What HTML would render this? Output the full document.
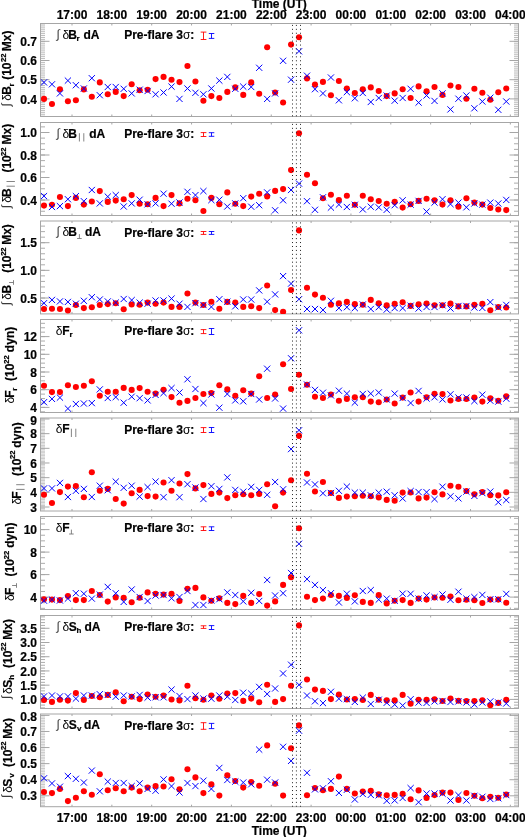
<!DOCTYPE html>
<html><head><meta charset="utf-8"><style>
html,body{margin:0;padding:0;background:#fff;}
body{width:525px;height:837px;overflow:hidden;}
svg{display:block;}
svg{will-change:transform;}
text{font-family:"Liberation Sans", sans-serif;font-size:12px;fill:#000;}
.b{font-weight:bold;stroke:#000;stroke-width:0.2px;}
.r{font-weight:normal;stroke:none;}
.s{font-size:8px;}
</style></head><body>
<svg width="525" height="837" viewBox="0 0 525 837">
<rect width="100%" height="100%" fill="#fff"/>
<path d="M40.5 116.18h4.5M518.5 116.18h-4.5M40.5 114.26h4.5M518.5 114.26h-4.5M40.5 112.34h4.5M518.5 112.34h-4.5M40.5 110.42h4.5M518.5 110.42h-4.5M40.5 108.5h4.5M518.5 108.5h-4.5M40.5 106.58h4.5M518.5 106.58h-4.5M40.5 104.66h4.5M518.5 104.66h-4.5M40.5 102.74h4.5M518.5 102.74h-4.5M40.5 100.82h4.5M518.5 100.82h-4.5M40.5 98.9h4.5M518.5 98.9h-4.5M40.5 96.98h4.5M518.5 96.98h-4.5M40.5 95.06h4.5M518.5 95.06h-4.5M40.5 93.14h4.5M518.5 93.14h-4.5M40.5 91.22h4.5M518.5 91.22h-4.5M40.5 89.3h4.5M518.5 89.3h-4.5M40.5 87.38h4.5M518.5 87.38h-4.5M40.5 85.46h4.5M518.5 85.46h-4.5M40.5 83.54h4.5M518.5 83.54h-4.5M40.5 81.62h4.5M518.5 81.62h-4.5M40.5 79.7h4.5M518.5 79.7h-4.5M40.5 77.78h4.5M518.5 77.78h-4.5M40.5 75.86h4.5M518.5 75.86h-4.5M40.5 73.94h4.5M518.5 73.94h-4.5M40.5 72.02h4.5M518.5 72.02h-4.5M40.5 70.1h4.5M518.5 70.1h-4.5M40.5 68.18h4.5M518.5 68.18h-4.5M40.5 66.26h4.5M518.5 66.26h-4.5M40.5 64.34h4.5M518.5 64.34h-4.5M40.5 62.42h4.5M518.5 62.42h-4.5M40.5 60.5h4.5M518.5 60.5h-4.5M40.5 58.58h4.5M518.5 58.58h-4.5M40.5 56.66h4.5M518.5 56.66h-4.5M40.5 54.74h4.5M518.5 54.74h-4.5M40.5 52.82h4.5M518.5 52.82h-4.5M40.5 50.9h4.5M518.5 50.9h-4.5M40.5 48.98h4.5M518.5 48.98h-4.5M40.5 47.06h4.5M518.5 47.06h-4.5M40.5 45.14h4.5M518.5 45.14h-4.5M40.5 43.22h4.5M518.5 43.22h-4.5M40.5 41.3h4.5M518.5 41.3h-4.5M40.5 39.38h4.5M518.5 39.38h-4.5M40.5 37.46h4.5M518.5 37.46h-4.5M40.5 35.54h4.5M518.5 35.54h-4.5M40.5 33.62h4.5M518.5 33.62h-4.5M40.5 31.7h4.5M518.5 31.7h-4.5M40.5 29.78h4.5M518.5 29.78h-4.5M40.5 27.86h4.5M518.5 27.86h-4.5M40.5 25.94h4.5M518.5 25.94h-4.5M40.5 24.02h4.5M518.5 24.02h-4.5" stroke="#bcbcbc" stroke-width="1" fill="none"/>
<path d="M40.5 98.9h9M518.5 98.9h-9M40.5 79.7h9M518.5 79.7h-9M40.5 60.5h9M518.5 60.5h-9M40.5 41.3h9M518.5 41.3h-9M72 23.5v2M72 116.5v-2M111.85 23.5v2M111.85 116.5v-2M151.7 23.5v2M151.7 116.5v-2M191.55 23.5v2M191.55 116.5v-2M231.4 23.5v2M231.4 116.5v-2M271.25 23.5v2M271.25 116.5v-2M311.1 23.5v2M311.1 116.5v-2M350.95 23.5v2M350.95 116.5v-2M390.8 23.5v2M390.8 116.5v-2M430.65 23.5v2M430.65 116.5v-2M470.5 23.5v2M470.5 116.5v-2M510.35 23.5v2M510.35 116.5v-2" stroke="#a6a6a6" stroke-width="1" fill="none"/>
<rect x="40.5" y="23.5" width="478" height="93" stroke="#a6a6a6" stroke-width="1" fill="none"/>
<text x="37" y="103.5" text-anchor="end" class="b">0.4</text>
<text x="37" y="84.3" text-anchor="end" class="b">0.5</text>
<text x="37" y="65.1" text-anchor="end" class="b">0.6</text>
<text x="37" y="45.9" text-anchor="end" class="b">0.7</text>
<path d="M203.5 32.1v7.4M200.7 32.1h5.7M200.7 39.5h5.7" stroke="#ff0000" stroke-width="0.9" fill="none"/>
<path d="M211.5 33.5v4.9M208.8 33.5h5.5M208.8 38.4h5.5" stroke="#0000ff" stroke-width="0.9" fill="none"/>
<text x="124.2" y="39" class="b">Pre-flare 3<tspan class="r">σ</tspan>:</text>
<clipPath id="c1"><rect x="40.5" y="23.5" width="478" height="93"/></clipPath>
<g clip-path="url(#c1)">
<circle cx="44" cy="98.9" r="3.05" fill="#ff0000"/>
<circle cx="51.97" cy="104" r="3.05" fill="#ff0000"/>
<circle cx="59.94" cy="89.2" r="3.05" fill="#ff0000"/>
<circle cx="67.91" cy="101.3" r="3.05" fill="#ff0000"/>
<circle cx="75.88" cy="100.3" r="3.05" fill="#ff0000"/>
<circle cx="83.85" cy="89.4" r="3.05" fill="#ff0000"/>
<circle cx="91.82" cy="96.7" r="3.05" fill="#ff0000"/>
<circle cx="99.79" cy="82.4" r="3.05" fill="#ff0000"/>
<circle cx="107.76" cy="94.3" r="3.05" fill="#ff0000"/>
<circle cx="115.73" cy="91.9" r="3.05" fill="#ff0000"/>
<circle cx="123.7" cy="96.1" r="3.05" fill="#ff0000"/>
<circle cx="131.67" cy="84.3" r="3.05" fill="#ff0000"/>
<circle cx="139.64" cy="90.3" r="3.05" fill="#ff0000"/>
<circle cx="147.61" cy="89.7" r="3.05" fill="#ff0000"/>
<circle cx="155.58" cy="79.1" r="3.05" fill="#ff0000"/>
<circle cx="163.55" cy="76.9" r="3.05" fill="#ff0000"/>
<circle cx="171.52" cy="79.7" r="3.05" fill="#ff0000"/>
<circle cx="179.49" cy="82.1" r="3.05" fill="#ff0000"/>
<circle cx="187.46" cy="66" r="3.05" fill="#ff0000"/>
<circle cx="195.43" cy="81.5" r="3.05" fill="#ff0000"/>
<circle cx="203.4" cy="100.7" r="3.05" fill="#ff0000"/>
<circle cx="211.37" cy="96.1" r="3.05" fill="#ff0000"/>
<circle cx="219.34" cy="98" r="3.05" fill="#ff0000"/>
<circle cx="227.31" cy="91.9" r="3.05" fill="#ff0000"/>
<circle cx="235.28" cy="87.4" r="3.05" fill="#ff0000"/>
<circle cx="243.25" cy="94.9" r="3.05" fill="#ff0000"/>
<circle cx="251.22" cy="82.4" r="3.05" fill="#ff0000"/>
<circle cx="259.19" cy="93.8" r="3.05" fill="#ff0000"/>
<circle cx="267.16" cy="47.3" r="3.05" fill="#ff0000"/>
<circle cx="275.13" cy="92.5" r="3.05" fill="#ff0000"/>
<circle cx="283.1" cy="102.5" r="3.05" fill="#ff0000"/>
<circle cx="291.07" cy="44.6" r="3.05" fill="#ff0000"/>
<circle cx="299.04" cy="37.3" r="3.05" fill="#ff0000"/>
<circle cx="307.01" cy="78.4" r="3.05" fill="#ff0000"/>
<circle cx="314.98" cy="84.6" r="3.05" fill="#ff0000"/>
<circle cx="322.95" cy="81.9" r="3.05" fill="#ff0000"/>
<circle cx="330.92" cy="95.2" r="3.05" fill="#ff0000"/>
<circle cx="338.89" cy="81" r="3.05" fill="#ff0000"/>
<circle cx="346.86" cy="88.5" r="3.05" fill="#ff0000"/>
<circle cx="354.83" cy="93" r="3.05" fill="#ff0000"/>
<circle cx="362.8" cy="89.2" r="3.05" fill="#ff0000"/>
<circle cx="370.77" cy="87.4" r="3.05" fill="#ff0000"/>
<circle cx="378.74" cy="91" r="3.05" fill="#ff0000"/>
<circle cx="386.71" cy="96.1" r="3.05" fill="#ff0000"/>
<circle cx="394.68" cy="93.4" r="3.05" fill="#ff0000"/>
<circle cx="402.65" cy="89.2" r="3.05" fill="#ff0000"/>
<circle cx="410.62" cy="98" r="3.05" fill="#ff0000"/>
<circle cx="418.59" cy="86.4" r="3.05" fill="#ff0000"/>
<circle cx="426.56" cy="91.3" r="3.05" fill="#ff0000"/>
<circle cx="434.53" cy="87" r="3.05" fill="#ff0000"/>
<circle cx="442.5" cy="94.9" r="3.05" fill="#ff0000"/>
<circle cx="450.47" cy="85.5" r="3.05" fill="#ff0000"/>
<circle cx="458.44" cy="87" r="3.05" fill="#ff0000"/>
<circle cx="466.41" cy="98.7" r="3.05" fill="#ff0000"/>
<circle cx="474.38" cy="88.7" r="3.05" fill="#ff0000"/>
<circle cx="482.35" cy="92.8" r="3.05" fill="#ff0000"/>
<circle cx="490.32" cy="99.8" r="3.05" fill="#ff0000"/>
<circle cx="498.29" cy="92.3" r="3.05" fill="#ff0000"/>
<circle cx="506.26" cy="88.5" r="3.05" fill="#ff0000"/>
<path d="M40.9 79.3L47.1 85.5M40.9 85.5L47.1 79.3M48.87 81.2L55.07 87.4M48.87 87.4L55.07 81.2M56.84 90.3L63.04 96.5M56.84 96.5L63.04 90.3M64.81 77.5L71.01 83.7M64.81 83.7L71.01 77.5M72.78 82.1L78.98 88.3M72.78 88.3L78.98 82.1M80.75 85.4L86.95 91.6M80.75 91.6L86.95 85.4M88.72 75.1L94.92 81.3M88.72 81.3L94.92 75.1M96.69 92.1L102.89 98.3M96.69 98.3L102.89 92.1M104.66 83.9L110.86 90.1M104.66 90.1L110.86 83.9M112.63 83.9L118.83 90.1M112.63 90.1L118.83 83.9M120.6 85.7L126.8 91.9M120.6 91.9L126.8 85.7M128.57 90.3L134.77 96.5M128.57 96.5L134.77 90.3M136.54 86.6L142.74 92.8M136.54 92.8L142.74 86.6M144.51 87.9L150.71 94.1M144.51 94.1L150.71 87.9M152.48 91.2L158.68 97.4M152.48 97.4L158.68 91.2M160.45 89.4L166.65 95.6M160.45 95.6L166.65 89.4M168.42 83.5L174.62 89.7M168.42 89.7L174.62 83.5M176.39 95.8L182.59 102M176.39 102L182.59 95.8M184.36 85.4L190.56 91.6M184.36 91.6L190.56 85.4M192.33 89.7L198.53 95.9M192.33 95.9L198.53 89.7M200.3 91.2L206.5 97.4M200.3 97.4L206.5 91.2M208.27 85.4L214.47 91.6M208.27 91.6L214.47 85.4M216.24 77.5L222.44 83.7M216.24 83.7L222.44 77.5M224.21 73.8L230.41 80M224.21 80L230.41 73.8M232.18 85.7L238.38 91.9M232.18 91.9L238.38 85.7M240.15 83.5L246.35 89.7M240.15 89.7L246.35 83.5M248.12 83.9L254.32 90.1M248.12 90.1L254.32 83.9M256.09 64.7L262.29 70.9M256.09 70.9L262.29 64.7M264.06 95.8L270.26 102M264.06 102L270.26 95.8M272.03 90.3L278.23 96.5M272.03 96.5L278.23 90.3M280 57.7L286.2 63.9M280 63.9L286.2 57.7M287.97 76.6L294.17 82.8M287.97 82.8L294.17 76.6M295.94 48.2L302.14 54.4M295.94 54.4L302.14 48.2M303.91 72.6L310.11 78.8M303.91 78.8L310.11 72.6M311.88 86.1L318.08 92.3M311.88 92.3L318.08 86.1M319.85 90.3L326.05 96.5M319.85 96.5L326.05 90.3M327.82 74.4L334.02 80.6M327.82 80.6L334.02 74.4M335.79 97.2L341.99 103.4M335.79 103.4L341.99 97.2M343.76 89L349.96 95.2M343.76 95.2L349.96 89M351.73 95.2L357.93 101.4M351.73 101.4L357.93 95.2M359.7 89.9L365.9 96.1M359.7 96.1L365.9 89.9M367.67 98.9L373.87 105.1M367.67 105.1L373.87 98.9M375.64 94.9L381.84 101.1M375.64 101.1L381.84 94.9M383.61 92.5L389.81 98.7M383.61 98.7L389.81 92.5M391.58 97.6L397.78 103.8M391.58 103.8L397.78 97.6M399.55 94.9L405.75 101.1M399.55 101.1L405.75 94.9M407.52 85.7L413.72 91.9M407.52 91.9L413.72 85.7M415.49 99.5L421.69 105.7M415.49 105.7L421.69 99.5M423.46 92.4L429.66 98.6M423.46 98.6L429.66 92.4M431.43 97.8L437.63 104M431.43 104L437.63 97.8M439.4 90.3L445.6 96.5M439.4 96.5L445.6 90.3M447.37 106.3L453.57 112.5M447.37 112.5L453.57 106.3M455.34 95.6L461.54 101.8M455.34 101.8L461.54 95.6M463.31 92.4L469.51 98.6M463.31 98.6L469.51 92.4M471.28 105.2L477.48 111.4M471.28 111.4L477.48 105.2M479.25 98.4L485.45 104.6M479.25 104.6L485.45 98.4M487.22 94.6L493.42 100.8M487.22 100.8L493.42 94.6M495.19 106.7L501.39 112.9M495.19 112.9L501.39 106.7M503.16 98.4L509.36 104.6M503.16 104.6L509.36 98.4" stroke="#0000ff" stroke-width="1" fill="none"/>
</g>
<path d="M292.5 24.9V116.5M296.4 24.9V116.5M300.5 24.9V116.5" stroke="#222" stroke-width="1" stroke-dasharray="1 2.93" fill="none"/>
<path d="M40.5 211.25h4.5M518.5 211.25h-4.5M40.5 205.62h4.5M518.5 205.62h-4.5M40.5 200h4.5M518.5 200h-4.5M40.5 194.38h4.5M518.5 194.38h-4.5M40.5 188.75h4.5M518.5 188.75h-4.5M40.5 183.12h4.5M518.5 183.12h-4.5M40.5 177.5h4.5M518.5 177.5h-4.5M40.5 171.88h4.5M518.5 171.88h-4.5M40.5 166.25h4.5M518.5 166.25h-4.5M40.5 160.62h4.5M518.5 160.62h-4.5M40.5 155h4.5M518.5 155h-4.5M40.5 149.38h4.5M518.5 149.38h-4.5M40.5 143.75h4.5M518.5 143.75h-4.5M40.5 138.12h4.5M518.5 138.12h-4.5M40.5 132.5h4.5M518.5 132.5h-4.5M40.5 126.88h4.5M518.5 126.88h-4.5" stroke="#acacac" stroke-width="1" fill="none"/>
<path d="M40.5 200h9M518.5 200h-9M40.5 177.5h9M518.5 177.5h-9M40.5 155h9M518.5 155h-9M40.5 132.5h9M518.5 132.5h-9M72 122.5v2M72 215.5v-2M111.85 122.5v2M111.85 215.5v-2M151.7 122.5v2M151.7 215.5v-2M191.55 122.5v2M191.55 215.5v-2M231.4 122.5v2M231.4 215.5v-2M271.25 122.5v2M271.25 215.5v-2M311.1 122.5v2M311.1 215.5v-2M350.95 122.5v2M350.95 215.5v-2M390.8 122.5v2M390.8 215.5v-2M430.65 122.5v2M430.65 215.5v-2M470.5 122.5v2M470.5 215.5v-2M510.35 122.5v2M510.35 215.5v-2" stroke="#a6a6a6" stroke-width="1" fill="none"/>
<rect x="40.5" y="122.5" width="478" height="93" stroke="#a6a6a6" stroke-width="1" fill="none"/>
<text x="37" y="204.6" text-anchor="end" class="b">0.4</text>
<text x="37" y="182.1" text-anchor="end" class="b">0.6</text>
<text x="37" y="159.6" text-anchor="end" class="b">0.8</text>
<text x="37" y="137.1" text-anchor="end" class="b">1.0</text>
<path d="M203.5 132.6v3.9M200.7 132.6h5.7M200.7 136.5h5.7" stroke="#ff0000" stroke-width="0.9" fill="none"/>
<path d="M211.5 132.7v3.6M208.8 132.7h5.5M208.8 136.3h5.5" stroke="#0000ff" stroke-width="0.9" fill="none"/>
<text x="124.2" y="138" class="b">Pre-flare 3<tspan class="r">σ</tspan>:</text>
<clipPath id="c2"><rect x="40.5" y="122.5" width="478" height="93"/></clipPath>
<g clip-path="url(#c2)">
<circle cx="44" cy="205.6" r="3.05" fill="#ff0000"/>
<circle cx="51.97" cy="204.8" r="3.05" fill="#ff0000"/>
<circle cx="59.94" cy="197" r="3.05" fill="#ff0000"/>
<circle cx="67.91" cy="206.1" r="3.05" fill="#ff0000"/>
<circle cx="75.88" cy="197.9" r="3.05" fill="#ff0000"/>
<circle cx="83.85" cy="204.6" r="3.05" fill="#ff0000"/>
<circle cx="91.82" cy="201.5" r="3.05" fill="#ff0000"/>
<circle cx="99.79" cy="191.1" r="3.05" fill="#ff0000"/>
<circle cx="107.76" cy="201.9" r="3.05" fill="#ff0000"/>
<circle cx="115.73" cy="200.6" r="3.05" fill="#ff0000"/>
<circle cx="123.7" cy="199.3" r="3.05" fill="#ff0000"/>
<circle cx="131.67" cy="195.1" r="3.05" fill="#ff0000"/>
<circle cx="139.64" cy="203.7" r="3.05" fill="#ff0000"/>
<circle cx="147.61" cy="204.3" r="3.05" fill="#ff0000"/>
<circle cx="155.58" cy="197.9" r="3.05" fill="#ff0000"/>
<circle cx="163.55" cy="206.1" r="3.05" fill="#ff0000"/>
<circle cx="171.52" cy="195.1" r="3.05" fill="#ff0000"/>
<circle cx="179.49" cy="203.4" r="3.05" fill="#ff0000"/>
<circle cx="187.46" cy="198.8" r="3.05" fill="#ff0000"/>
<circle cx="195.43" cy="200.3" r="3.05" fill="#ff0000"/>
<circle cx="203.4" cy="211" r="3.05" fill="#ff0000"/>
<circle cx="211.37" cy="197.9" r="3.05" fill="#ff0000"/>
<circle cx="219.34" cy="204.3" r="3.05" fill="#ff0000"/>
<circle cx="227.31" cy="192.4" r="3.05" fill="#ff0000"/>
<circle cx="235.28" cy="203.7" r="3.05" fill="#ff0000"/>
<circle cx="243.25" cy="206.1" r="3.05" fill="#ff0000"/>
<circle cx="251.22" cy="196.6" r="3.05" fill="#ff0000"/>
<circle cx="259.19" cy="193.7" r="3.05" fill="#ff0000"/>
<circle cx="267.16" cy="196.4" r="3.05" fill="#ff0000"/>
<circle cx="275.13" cy="190.9" r="3.05" fill="#ff0000"/>
<circle cx="283.1" cy="189.1" r="3.05" fill="#ff0000"/>
<circle cx="291.07" cy="170.1" r="3.05" fill="#ff0000"/>
<circle cx="299.04" cy="133.3" r="3.05" fill="#ff0000"/>
<circle cx="307.01" cy="174.7" r="3.05" fill="#ff0000"/>
<circle cx="314.98" cy="183.3" r="3.05" fill="#ff0000"/>
<circle cx="322.95" cy="198.2" r="3.05" fill="#ff0000"/>
<circle cx="330.92" cy="194.8" r="3.05" fill="#ff0000"/>
<circle cx="338.89" cy="200.1" r="3.05" fill="#ff0000"/>
<circle cx="346.86" cy="195.7" r="3.05" fill="#ff0000"/>
<circle cx="354.83" cy="204.8" r="3.05" fill="#ff0000"/>
<circle cx="362.8" cy="195.7" r="3.05" fill="#ff0000"/>
<circle cx="370.77" cy="199.2" r="3.05" fill="#ff0000"/>
<circle cx="378.74" cy="201" r="3.05" fill="#ff0000"/>
<circle cx="386.71" cy="203.7" r="3.05" fill="#ff0000"/>
<circle cx="394.68" cy="201.9" r="3.05" fill="#ff0000"/>
<circle cx="402.65" cy="207.6" r="3.05" fill="#ff0000"/>
<circle cx="410.62" cy="204.3" r="3.05" fill="#ff0000"/>
<circle cx="418.59" cy="200.9" r="3.05" fill="#ff0000"/>
<circle cx="426.56" cy="198.8" r="3.05" fill="#ff0000"/>
<circle cx="434.53" cy="200.3" r="3.05" fill="#ff0000"/>
<circle cx="442.5" cy="204.6" r="3.05" fill="#ff0000"/>
<circle cx="450.47" cy="200.3" r="3.05" fill="#ff0000"/>
<circle cx="458.44" cy="206.7" r="3.05" fill="#ff0000"/>
<circle cx="466.41" cy="198.2" r="3.05" fill="#ff0000"/>
<circle cx="474.38" cy="202.6" r="3.05" fill="#ff0000"/>
<circle cx="482.35" cy="204.6" r="3.05" fill="#ff0000"/>
<circle cx="490.32" cy="208" r="3.05" fill="#ff0000"/>
<circle cx="498.29" cy="209.5" r="3.05" fill="#ff0000"/>
<circle cx="506.26" cy="210.1" r="3.05" fill="#ff0000"/>
<path d="M40.9 193L47.1 199.2M40.9 199.2L47.1 193M48.87 203.9L55.07 210.1M48.87 210.1L55.07 203.9M56.84 203L63.04 209.2M56.84 209.2L63.04 203M64.81 196.1L71.01 202.3M64.81 202.3L71.01 196.1M72.78 193L78.98 199.2M72.78 199.2L78.98 193M80.75 198.1L86.95 204.3M80.75 204.3L86.95 198.1M88.72 186.9L94.92 193.1M88.72 193.1L94.92 186.9M96.69 200.3L102.89 206.5M96.69 206.5L102.89 200.3M104.66 193.5L110.86 199.7M104.66 199.7L110.86 193.5M112.63 192L118.83 198.2M112.63 198.2L118.83 192M120.6 203.4L126.8 209.6M120.6 209.6L126.8 203.4M128.57 200.3L134.77 206.5M128.57 206.5L134.77 200.3M136.54 196.6L142.74 202.8M136.54 202.8L142.74 196.6M144.51 201.2L150.71 207.4M144.51 207.4L150.71 201.2M152.48 200.3L158.68 206.5M152.48 206.5L158.68 200.3M160.45 190.6L166.65 196.8M160.45 196.8L166.65 190.6M168.42 200.6L174.62 206.8M168.42 206.8L174.62 200.6M176.39 199.4L182.59 205.6M176.39 205.6L182.59 199.4M184.36 188.7L190.56 194.9M184.36 194.9L190.56 188.7M192.33 192L198.53 198.2M192.33 198.2L198.53 192M200.3 188L206.5 194.2M200.3 194.2L206.5 188M208.27 197L214.47 203.2M208.27 203.2L214.47 197M216.24 196.6L222.44 202.8M216.24 202.8L222.44 196.6M224.21 203.4L230.41 209.6M224.21 209.6L230.41 203.4M232.18 200.3L238.38 206.5M232.18 206.5L238.38 200.3M240.15 195.1L246.35 201.3M240.15 201.3L246.35 195.1M248.12 203.6L254.32 209.8M248.12 209.8L254.32 203.6M256.09 202.1L262.29 208.3M256.09 208.3L262.29 202.1M264.06 189.3L270.26 195.5M264.06 195.5L270.26 189.3M272.03 207.2L278.23 213.4M272.03 213.4L278.23 207.2M280 197.2L286.2 203.4M280 203.4L286.2 197.2M287.97 186.9L294.17 193.1M287.97 193.1L294.17 186.9M295.94 180.5L302.14 186.7M295.94 186.7L302.14 180.5M303.91 198.1L310.11 204.3M303.91 204.3L310.11 198.1M311.88 206.7L318.08 212.9M311.88 212.9L318.08 206.7M319.85 194.2L326.05 200.4M319.85 200.4L326.05 194.2M327.82 204.5L334.02 210.7M327.82 210.7L334.02 204.5M335.79 201.5L341.99 207.7M335.79 207.7L341.99 201.5M343.76 203.9L349.96 210.1M343.76 210.1L349.96 203.9M351.73 201.7L357.93 207.9M351.73 207.9L357.93 201.7M359.7 206.3L365.9 212.5M359.7 212.5L365.9 206.3M367.67 203.6L373.87 209.8M367.67 209.8L373.87 203.6M375.64 204.3L381.84 210.5M375.64 210.5L381.84 204.3M383.61 206.7L389.81 212.9M383.61 212.9L389.81 206.7M391.58 202.1L397.78 208.3M391.58 208.3L397.78 202.1M399.55 197.2L405.75 203.4M399.55 203.4L405.75 197.2M407.52 201.5L413.72 207.7M407.52 207.7L413.72 201.5M415.49 197.8L421.69 204M415.49 204L421.69 197.8M423.46 208.5L429.66 214.7M423.46 214.7L429.66 208.5M431.43 199.5L437.63 205.7M431.43 205.7L437.63 199.5M439.4 196.1L445.6 202.3M439.4 202.3L445.6 196.1M447.37 201L453.57 207.2M447.37 207.2L453.57 201M455.34 199.5L461.54 205.7M455.34 205.7L461.54 199.5M463.31 204.2L469.51 210.4M463.31 210.4L469.51 204.2M471.28 200.4L477.48 206.6M471.28 206.6L477.48 200.4M479.25 201.5L485.45 207.7M479.25 207.7L485.45 201.5M487.22 199.5L493.42 205.7M487.22 205.7L493.42 199.5M495.19 200.4L501.39 206.6M495.19 206.6L501.39 200.4M503.16 196.8L509.36 203M503.16 203L509.36 196.8" stroke="#0000ff" stroke-width="1" fill="none"/>
</g>
<path d="M292.5 123.9V215.5M296.4 123.9V215.5M300.5 123.9V215.5" stroke="#222" stroke-width="1" stroke-dasharray="1 2.93" fill="none"/>
<path d="M40.5 309.06h4.5M518.5 309.06h-4.5M40.5 303.53h4.5M518.5 303.53h-4.5M40.5 298h4.5M518.5 298h-4.5M40.5 292.47h4.5M518.5 292.47h-4.5M40.5 286.94h4.5M518.5 286.94h-4.5M40.5 281.41h4.5M518.5 281.41h-4.5M40.5 275.88h4.5M518.5 275.88h-4.5M40.5 270.35h4.5M518.5 270.35h-4.5M40.5 264.82h4.5M518.5 264.82h-4.5M40.5 259.29h4.5M518.5 259.29h-4.5M40.5 253.76h4.5M518.5 253.76h-4.5M40.5 248.23h4.5M518.5 248.23h-4.5M40.5 242.7h4.5M518.5 242.7h-4.5M40.5 237.17h4.5M518.5 237.17h-4.5M40.5 231.64h4.5M518.5 231.64h-4.5M40.5 226.11h4.5M518.5 226.11h-4.5" stroke="#acacac" stroke-width="1" fill="none"/>
<path d="M40.5 298h9M518.5 298h-9M40.5 270.35h9M518.5 270.35h-9M40.5 242.7h9M518.5 242.7h-9M72 221v2M72 313.9v-2M111.85 221v2M111.85 313.9v-2M151.7 221v2M151.7 313.9v-2M191.55 221v2M191.55 313.9v-2M231.4 221v2M231.4 313.9v-2M271.25 221v2M271.25 313.9v-2M311.1 221v2M311.1 313.9v-2M350.95 221v2M350.95 313.9v-2M390.8 221v2M390.8 313.9v-2M430.65 221v2M430.65 313.9v-2M470.5 221v2M470.5 313.9v-2M510.35 221v2M510.35 313.9v-2" stroke="#a6a6a6" stroke-width="1" fill="none"/>
<rect x="40.5" y="221" width="478" height="92.9" stroke="#a6a6a6" stroke-width="1" fill="none"/>
<text x="37" y="302.6" text-anchor="end" class="b">0.5</text>
<text x="37" y="274.95" text-anchor="end" class="b">1.0</text>
<text x="37" y="247.3" text-anchor="end" class="b">1.5</text>
<path d="M203.5 231.5v2.9M200.7 231.5h5.7M200.7 234.4h5.7" stroke="#ff0000" stroke-width="0.9" fill="none"/>
<path d="M211.5 231.5v2.9M208.8 231.5h5.5M208.8 234.4h5.5" stroke="#0000ff" stroke-width="0.9" fill="none"/>
<text x="124.2" y="236.5" class="b">Pre-flare 3<tspan class="r">σ</tspan>:</text>
<clipPath id="c3"><rect x="40.5" y="221" width="478" height="92.9"/></clipPath>
<g clip-path="url(#c3)">
<circle cx="44" cy="309" r="3.05" fill="#ff0000"/>
<circle cx="51.97" cy="308.7" r="3.05" fill="#ff0000"/>
<circle cx="59.94" cy="309" r="3.05" fill="#ff0000"/>
<circle cx="67.91" cy="310.5" r="3.05" fill="#ff0000"/>
<circle cx="75.88" cy="305" r="3.05" fill="#ff0000"/>
<circle cx="83.85" cy="308.1" r="3.05" fill="#ff0000"/>
<circle cx="91.82" cy="307.2" r="3.05" fill="#ff0000"/>
<circle cx="99.79" cy="305" r="3.05" fill="#ff0000"/>
<circle cx="107.76" cy="304.1" r="3.05" fill="#ff0000"/>
<circle cx="115.73" cy="303.2" r="3.05" fill="#ff0000"/>
<circle cx="123.7" cy="309.2" r="3.05" fill="#ff0000"/>
<circle cx="131.67" cy="304.5" r="3.05" fill="#ff0000"/>
<circle cx="139.64" cy="304.7" r="3.05" fill="#ff0000"/>
<circle cx="147.61" cy="302.6" r="3.05" fill="#ff0000"/>
<circle cx="155.58" cy="303.7" r="3.05" fill="#ff0000"/>
<circle cx="163.55" cy="302.6" r="3.05" fill="#ff0000"/>
<circle cx="171.52" cy="306.9" r="3.05" fill="#ff0000"/>
<circle cx="179.49" cy="306.9" r="3.05" fill="#ff0000"/>
<circle cx="187.46" cy="293.5" r="3.05" fill="#ff0000"/>
<circle cx="195.43" cy="302.6" r="3.05" fill="#ff0000"/>
<circle cx="203.4" cy="305" r="3.05" fill="#ff0000"/>
<circle cx="211.37" cy="301.7" r="3.05" fill="#ff0000"/>
<circle cx="219.34" cy="308.7" r="3.05" fill="#ff0000"/>
<circle cx="227.31" cy="301.9" r="3.05" fill="#ff0000"/>
<circle cx="235.28" cy="302.6" r="3.05" fill="#ff0000"/>
<circle cx="243.25" cy="306.9" r="3.05" fill="#ff0000"/>
<circle cx="251.22" cy="306.3" r="3.05" fill="#ff0000"/>
<circle cx="259.19" cy="308.1" r="3.05" fill="#ff0000"/>
<circle cx="267.16" cy="285.5" r="3.05" fill="#ff0000"/>
<circle cx="275.13" cy="310.1" r="3.05" fill="#ff0000"/>
<circle cx="283.1" cy="311.8" r="3.05" fill="#ff0000"/>
<circle cx="291.07" cy="290" r="3.05" fill="#ff0000"/>
<circle cx="299.04" cy="230.4" r="3.05" fill="#ff0000"/>
<circle cx="307.01" cy="287.7" r="3.05" fill="#ff0000"/>
<circle cx="314.98" cy="294.6" r="3.05" fill="#ff0000"/>
<circle cx="322.95" cy="297.7" r="3.05" fill="#ff0000"/>
<circle cx="330.92" cy="304.7" r="3.05" fill="#ff0000"/>
<circle cx="338.89" cy="303.2" r="3.05" fill="#ff0000"/>
<circle cx="346.86" cy="301.9" r="3.05" fill="#ff0000"/>
<circle cx="354.83" cy="304.1" r="3.05" fill="#ff0000"/>
<circle cx="362.8" cy="304.7" r="3.05" fill="#ff0000"/>
<circle cx="370.77" cy="299.9" r="3.05" fill="#ff0000"/>
<circle cx="378.74" cy="303.2" r="3.05" fill="#ff0000"/>
<circle cx="386.71" cy="305.4" r="3.05" fill="#ff0000"/>
<circle cx="394.68" cy="303.7" r="3.05" fill="#ff0000"/>
<circle cx="402.65" cy="302.3" r="3.05" fill="#ff0000"/>
<circle cx="410.62" cy="305.9" r="3.05" fill="#ff0000"/>
<circle cx="418.59" cy="304.3" r="3.05" fill="#ff0000"/>
<circle cx="426.56" cy="303.6" r="3.05" fill="#ff0000"/>
<circle cx="434.53" cy="305.3" r="3.05" fill="#ff0000"/>
<circle cx="442.5" cy="305.3" r="3.05" fill="#ff0000"/>
<circle cx="450.47" cy="303.6" r="3.05" fill="#ff0000"/>
<circle cx="458.44" cy="306.4" r="3.05" fill="#ff0000"/>
<circle cx="466.41" cy="306.4" r="3.05" fill="#ff0000"/>
<circle cx="474.38" cy="304.9" r="3.05" fill="#ff0000"/>
<circle cx="482.35" cy="303.8" r="3.05" fill="#ff0000"/>
<circle cx="490.32" cy="310.2" r="3.05" fill="#ff0000"/>
<circle cx="498.29" cy="307" r="3.05" fill="#ff0000"/>
<circle cx="506.26" cy="307.5" r="3.05" fill="#ff0000"/>
<path d="M40.9 300.1L47.1 306.3M40.9 306.3L47.1 300.1M48.87 296.8L55.07 303M48.87 303L55.07 296.8M56.84 298.3L63.04 304.5M56.84 304.5L63.04 298.3M64.81 298.8L71.01 305M64.81 305L71.01 298.8M72.78 300.6L78.98 306.8M72.78 306.8L78.98 300.6M80.75 297.7L86.95 303.9M80.75 303.9L86.95 297.7M88.72 294.1L94.92 300.3M88.72 300.3L94.92 294.1M96.69 296.4L102.89 302.6M96.69 302.6L102.89 296.4M104.66 298.3L110.86 304.5M104.66 304.5L110.86 298.3M112.63 299.5L118.83 305.7M112.63 305.7L118.83 299.5M120.6 295.9L126.8 302.1M120.6 302.1L126.8 295.9M128.57 297L134.77 303.2M128.57 303.2L134.77 297M136.54 299.5L142.74 305.7M136.54 305.7L142.74 299.5M144.51 300.6L150.71 306.8M144.51 306.8L150.71 300.6M152.48 297.4L158.68 303.6M152.48 303.6L158.68 297.4M160.45 297.4L166.65 303.6M160.45 303.6L166.65 297.4M168.42 295.5L174.62 301.7M168.42 301.7L174.62 295.5M176.39 300.6L182.59 306.8M176.39 306.8L182.59 300.6M184.36 303.8L190.56 310M184.36 310L190.56 303.8M192.33 300.1L198.53 306.3M192.33 306.3L198.53 300.1M200.3 301.9L206.5 308.1M200.3 308.1L206.5 301.9M208.27 303.8L214.47 310M208.27 310L214.47 303.8M216.24 296.1L222.44 302.3M216.24 302.3L222.44 296.1M224.21 298.6L230.41 304.8M224.21 304.8L230.41 298.6M232.18 303.2L238.38 309.4M232.18 309.4L238.38 303.2M240.15 296.4L246.35 302.6M240.15 302.6L246.35 296.4M248.12 296.4L254.32 302.6M248.12 302.6L254.32 296.4M256.09 287.3L262.29 293.5M256.09 293.5L262.29 287.3M264.06 298.6L270.26 304.8M264.06 304.8L270.26 298.6M272.03 291.3L278.23 297.5M272.03 297.5L278.23 291.3M280 273L286.2 279.2M280 279.2L286.2 273M287.97 280.5L294.17 286.7M287.97 286.7L294.17 280.5M295.94 296.1L302.14 302.3M295.94 302.3L302.14 296.1M303.91 305.9L310.11 312.1M303.91 312.1L310.11 305.9M311.88 305.9L318.08 312.1M311.88 312.1L318.08 305.9M319.85 306.9L326.05 313.1M319.85 313.1L326.05 306.9M327.82 297.7L334.02 303.9M327.82 303.9L334.02 297.7M335.79 305L341.99 311.2M335.79 311.2L341.99 305M343.76 304.1L349.96 310.3M343.76 310.3L349.96 304.1M351.73 305L357.93 311.2M351.73 311.2L357.93 305M359.7 301.4L365.9 307.6M359.7 307.6L365.9 301.4M367.67 305.9L373.87 312.1M367.67 312.1L373.87 305.9M375.64 304.1L381.84 310.3M375.64 310.3L381.84 304.1M383.61 306.5L389.81 312.7M383.61 312.7L389.81 306.5M391.58 305L397.78 311.2M391.58 311.2L397.78 305M399.55 305L405.75 311.2M399.55 311.2L405.75 305M407.52 302.6L413.72 308.8M407.52 308.8L413.72 302.6M415.49 305.4L421.69 311.6M415.49 311.6L421.69 305.4M423.46 303.9L429.66 310.1M423.46 310.1L429.66 303.9M431.43 303.9L437.63 310.1M431.43 310.1L437.63 303.9M439.4 302.2L445.6 308.4M439.4 308.4L445.6 302.2M447.37 305.4L453.57 311.6M447.37 311.6L453.57 305.4M455.34 302.9L461.54 309.1M455.34 309.1L461.54 302.9M463.31 302.9L469.51 309.1M463.31 309.1L469.51 302.9M471.28 304.4L477.48 310.6M471.28 310.6L477.48 304.4M479.25 304.8L485.45 311M479.25 311L485.45 304.8M487.22 299L493.42 305.2M487.22 305.2L493.42 299M495.19 304.4L501.39 310.6M495.19 310.6L501.39 304.4M503.16 301.8L509.36 308M503.16 308L509.36 301.8" stroke="#0000ff" stroke-width="1" fill="none"/>
</g>
<path d="M292.5 222.4V313.9M296.4 222.4V313.9M300.5 222.4V313.9" stroke="#222" stroke-width="1" stroke-dasharray="1 2.93" fill="none"/>
<path d="M40.5 411.82h4.5M518.5 411.82h-4.5M40.5 407.4h4.5M518.5 407.4h-4.5M40.5 402.97h4.5M518.5 402.97h-4.5M40.5 398.55h4.5M518.5 398.55h-4.5M40.5 394.12h4.5M518.5 394.12h-4.5M40.5 389.7h4.5M518.5 389.7h-4.5M40.5 385.27h4.5M518.5 385.27h-4.5M40.5 380.85h4.5M518.5 380.85h-4.5M40.5 376.42h4.5M518.5 376.42h-4.5M40.5 372h4.5M518.5 372h-4.5M40.5 367.57h4.5M518.5 367.57h-4.5M40.5 363.15h4.5M518.5 363.15h-4.5M40.5 358.72h4.5M518.5 358.72h-4.5M40.5 354.3h4.5M518.5 354.3h-4.5M40.5 349.88h4.5M518.5 349.88h-4.5M40.5 345.45h4.5M518.5 345.45h-4.5M40.5 341.02h4.5M518.5 341.02h-4.5M40.5 336.6h4.5M518.5 336.6h-4.5M40.5 332.17h4.5M518.5 332.17h-4.5M40.5 327.75h4.5M518.5 327.75h-4.5M40.5 323.32h4.5M518.5 323.32h-4.5" stroke="#acacac" stroke-width="1" fill="none"/>
<path d="M40.5 407.4h9M518.5 407.4h-9M40.5 389.7h9M518.5 389.7h-9M40.5 372h9M518.5 372h-9M40.5 354.3h9M518.5 354.3h-9M40.5 336.6h9M518.5 336.6h-9M72 319.5v2M72 412.5v-2M111.85 319.5v2M111.85 412.5v-2M151.7 319.5v2M151.7 412.5v-2M191.55 319.5v2M191.55 412.5v-2M231.4 319.5v2M231.4 412.5v-2M271.25 319.5v2M271.25 412.5v-2M311.1 319.5v2M311.1 412.5v-2M350.95 319.5v2M350.95 412.5v-2M390.8 319.5v2M390.8 412.5v-2M430.65 319.5v2M430.65 412.5v-2M470.5 319.5v2M470.5 412.5v-2M510.35 319.5v2M510.35 412.5v-2" stroke="#a6a6a6" stroke-width="1" fill="none"/>
<rect x="40.5" y="319.5" width="478" height="93" stroke="#a6a6a6" stroke-width="1" fill="none"/>
<text x="37" y="412" text-anchor="end" class="b">4</text>
<text x="37" y="394.3" text-anchor="end" class="b">6</text>
<text x="37" y="376.6" text-anchor="end" class="b">8</text>
<text x="37" y="358.9" text-anchor="end" class="b">10</text>
<text x="37" y="341.2" text-anchor="end" class="b">12</text>
<path d="M203.5 329.6v4M200.7 329.6h5.7M200.7 333.6h5.7" stroke="#ff0000" stroke-width="0.9" fill="none"/>
<path d="M211.5 328.5v6M208.8 328.5h5.5M208.8 334.5h5.5" stroke="#0000ff" stroke-width="0.9" fill="none"/>
<text x="124.2" y="335" class="b">Pre-flare 3<tspan class="r">σ</tspan>:</text>
<clipPath id="c4"><rect x="40.5" y="319.5" width="478" height="93"/></clipPath>
<g clip-path="url(#c4)">
<circle cx="44" cy="385.7" r="3.05" fill="#ff0000"/>
<circle cx="51.97" cy="392.1" r="3.05" fill="#ff0000"/>
<circle cx="59.94" cy="392.1" r="3.05" fill="#ff0000"/>
<circle cx="67.91" cy="385.2" r="3.05" fill="#ff0000"/>
<circle cx="75.88" cy="387" r="3.05" fill="#ff0000"/>
<circle cx="83.85" cy="385.7" r="3.05" fill="#ff0000"/>
<circle cx="91.82" cy="381.2" r="3.05" fill="#ff0000"/>
<circle cx="99.79" cy="395.8" r="3.05" fill="#ff0000"/>
<circle cx="107.76" cy="391.8" r="3.05" fill="#ff0000"/>
<circle cx="115.73" cy="391.8" r="3.05" fill="#ff0000"/>
<circle cx="123.7" cy="387.9" r="3.05" fill="#ff0000"/>
<circle cx="131.67" cy="389.9" r="3.05" fill="#ff0000"/>
<circle cx="139.64" cy="388.1" r="3.05" fill="#ff0000"/>
<circle cx="147.61" cy="391.8" r="3.05" fill="#ff0000"/>
<circle cx="155.58" cy="393.6" r="3.05" fill="#ff0000"/>
<circle cx="163.55" cy="389.8" r="3.05" fill="#ff0000"/>
<circle cx="171.52" cy="397.1" r="3.05" fill="#ff0000"/>
<circle cx="179.49" cy="402.7" r="3.05" fill="#ff0000"/>
<circle cx="187.46" cy="400.9" r="3.05" fill="#ff0000"/>
<circle cx="195.43" cy="398" r="3.05" fill="#ff0000"/>
<circle cx="203.4" cy="394" r="3.05" fill="#ff0000"/>
<circle cx="211.37" cy="393.1" r="3.05" fill="#ff0000"/>
<circle cx="219.34" cy="385.2" r="3.05" fill="#ff0000"/>
<circle cx="227.31" cy="389.4" r="3.05" fill="#ff0000"/>
<circle cx="235.28" cy="395.8" r="3.05" fill="#ff0000"/>
<circle cx="243.25" cy="390.3" r="3.05" fill="#ff0000"/>
<circle cx="251.22" cy="393.6" r="3.05" fill="#ff0000"/>
<circle cx="259.19" cy="376.2" r="3.05" fill="#ff0000"/>
<circle cx="267.16" cy="398" r="3.05" fill="#ff0000"/>
<circle cx="275.13" cy="394.5" r="3.05" fill="#ff0000"/>
<circle cx="283.1" cy="364.3" r="3.05" fill="#ff0000"/>
<circle cx="291.07" cy="389" r="3.05" fill="#ff0000"/>
<circle cx="299.04" cy="374.8" r="3.05" fill="#ff0000"/>
<circle cx="307.01" cy="384.8" r="3.05" fill="#ff0000"/>
<circle cx="314.98" cy="396.7" r="3.05" fill="#ff0000"/>
<circle cx="322.95" cy="398" r="3.05" fill="#ff0000"/>
<circle cx="330.92" cy="394.5" r="3.05" fill="#ff0000"/>
<circle cx="338.89" cy="400.7" r="3.05" fill="#ff0000"/>
<circle cx="346.86" cy="398.9" r="3.05" fill="#ff0000"/>
<circle cx="354.83" cy="397.3" r="3.05" fill="#ff0000"/>
<circle cx="362.8" cy="397.3" r="3.05" fill="#ff0000"/>
<circle cx="370.77" cy="401.6" r="3.05" fill="#ff0000"/>
<circle cx="378.74" cy="402.2" r="3.05" fill="#ff0000"/>
<circle cx="386.71" cy="399.5" r="3.05" fill="#ff0000"/>
<circle cx="394.68" cy="403.5" r="3.05" fill="#ff0000"/>
<circle cx="402.65" cy="397.6" r="3.05" fill="#ff0000"/>
<circle cx="410.62" cy="392.5" r="3.05" fill="#ff0000"/>
<circle cx="418.59" cy="401.6" r="3.05" fill="#ff0000"/>
<circle cx="426.56" cy="397.3" r="3.05" fill="#ff0000"/>
<circle cx="434.53" cy="393.7" r="3.05" fill="#ff0000"/>
<circle cx="442.5" cy="394.1" r="3.05" fill="#ff0000"/>
<circle cx="450.47" cy="400.5" r="3.05" fill="#ff0000"/>
<circle cx="458.44" cy="399" r="3.05" fill="#ff0000"/>
<circle cx="466.41" cy="399" r="3.05" fill="#ff0000"/>
<circle cx="474.38" cy="397.5" r="3.05" fill="#ff0000"/>
<circle cx="482.35" cy="401.6" r="3.05" fill="#ff0000"/>
<circle cx="490.32" cy="398.4" r="3.05" fill="#ff0000"/>
<circle cx="498.29" cy="400.7" r="3.05" fill="#ff0000"/>
<circle cx="506.26" cy="396.4" r="3.05" fill="#ff0000"/>
<path d="M40.9 399.1L47.1 405.3M40.9 405.3L47.1 399.1M48.87 395.8L55.07 402M48.87 402L55.07 395.8M56.84 394.5L63.04 400.7M56.84 400.7L63.04 394.5M64.81 405.5L71.01 411.7M64.81 411.7L71.01 405.5M72.78 400.9L78.98 407.1M72.78 407.1L78.98 400.9M80.75 400.4L86.95 406.6M80.75 406.6L86.95 400.4M88.72 400L94.92 406.2M88.72 406.2L94.92 400M96.69 386.3L102.89 392.5M96.69 392.5L102.89 386.3M104.66 394.9L110.86 401.1M104.66 401.1L110.86 394.9M112.63 394L118.83 400.2M112.63 400.2L118.83 394M120.6 399.6L126.8 405.8M120.6 405.8L126.8 399.6M128.57 393.6L134.77 399.8M128.57 399.8L134.77 393.6M136.54 395.1L142.74 401.3M136.54 401.3L142.74 395.1M144.51 397.3L150.71 403.5M144.51 403.5L150.71 397.3M152.48 391.8L158.68 398M152.48 398L158.68 391.8M160.45 390L166.65 396.2M160.45 396.2L166.65 390M168.42 385L174.62 391.2M168.42 391.2L174.62 385M176.39 389.4L182.59 395.6M176.39 395.6L182.59 389.4M184.36 376.2L190.56 382.4M184.36 382.4L190.56 376.2M192.33 385.9L198.53 392.1M192.33 392.1L198.53 385.9M200.3 400L206.5 406.2M200.3 406.2L206.5 400M208.27 391.4L214.47 397.6M208.27 397.6L214.47 391.4M216.24 404.6L222.44 410.8M216.24 410.8L222.44 404.6M224.21 390.9L230.41 397.1M224.21 397.1L230.41 390.9M232.18 397.3L238.38 403.5M232.18 403.5L238.38 397.3M240.15 398.2L246.35 404.4M240.15 404.4L246.35 398.2M248.12 390.9L254.32 397.1M248.12 397.1L254.32 390.9M256.09 396.4L262.29 402.6M256.09 402.6L262.29 396.4M264.06 365.6L270.26 371.8M264.06 371.8L270.26 365.6M272.03 395.4L278.23 401.6M272.03 401.6L278.23 395.4M280 405.5L286.2 411.7M280 411.7L286.2 405.5M287.97 355.2L294.17 361.4M287.97 361.4L294.17 355.2M295.94 327.2L302.14 333.4M295.94 333.4L302.14 327.2M303.91 381.4L310.11 387.6M303.91 387.6L310.11 381.4M311.88 386.8L318.08 393M311.88 393L318.08 386.8M319.85 389.6L326.05 395.8M319.85 395.8L326.05 389.6M327.82 392.3L334.02 398.5M327.82 398.5L334.02 392.3M335.79 387.6L341.99 393.8M335.79 393.8L341.99 387.6M343.76 390.5L349.96 396.7M343.76 396.7L349.96 390.5M351.73 399.5L357.93 405.7M351.73 405.7L357.93 399.5M359.7 390.9L365.9 397.1M359.7 397.1L365.9 390.9M367.67 390.5L373.87 396.7M367.67 396.7L373.87 390.5M375.64 389.4L381.84 395.6M375.64 395.6L381.84 389.4M383.61 396.4L389.81 402.6M383.61 402.6L389.81 396.4M391.58 390.5L397.78 396.7M391.58 396.7L397.78 390.5M399.55 394.9L405.75 401.1M399.55 401.1L405.75 394.9M407.52 399.9L413.72 406.1M407.52 406.1L413.72 399.9M415.49 387.8L421.69 394M415.49 394L421.69 387.8M423.46 395.5L429.66 401.7M423.46 401.7L429.66 395.5M431.43 394.2L437.63 400.4M431.43 400.4L437.63 394.2M439.4 396.3L445.6 402.5M439.4 402.5L445.6 396.3M447.37 391.2L453.57 397.4M447.37 397.4L453.57 391.2M455.34 394.4L461.54 400.6M455.34 400.6L461.54 394.4M463.31 394.4L469.51 400.6M463.31 400.6L469.51 394.4M471.28 398L477.48 404.2M471.28 404.2L477.48 398M479.25 391.6L485.45 397.8M479.25 397.8L485.45 391.6M487.22 397.6L493.42 403.8M487.22 403.8L493.42 397.6M495.19 398.5L501.39 404.7M495.19 404.7L501.39 398.5M503.16 395.5L509.36 401.7M503.16 401.7L509.36 395.5" stroke="#0000ff" stroke-width="1" fill="none"/>
</g>
<path d="M292.5 320.9V412.5M296.4 320.9V412.5M300.5 320.9V412.5" stroke="#222" stroke-width="1" stroke-dasharray="1 2.93" fill="none"/>
<path d="M40.5 509.93h4.5M518.5 509.93h-4.5M40.5 508.47h4.5M518.5 508.47h-4.5M40.5 507h4.5M518.5 507h-4.5M40.5 505.53h4.5M518.5 505.53h-4.5M40.5 504.07h4.5M518.5 504.07h-4.5M40.5 502.6h4.5M518.5 502.6h-4.5M40.5 501.13h4.5M518.5 501.13h-4.5M40.5 499.67h4.5M518.5 499.67h-4.5M40.5 498.2h4.5M518.5 498.2h-4.5M40.5 496.73h4.5M518.5 496.73h-4.5M40.5 495.26h4.5M518.5 495.26h-4.5M40.5 493.8h4.5M518.5 493.8h-4.5M40.5 492.33h4.5M518.5 492.33h-4.5M40.5 490.86h4.5M518.5 490.86h-4.5M40.5 489.4h4.5M518.5 489.4h-4.5M40.5 487.93h4.5M518.5 487.93h-4.5M40.5 486.46h4.5M518.5 486.46h-4.5M40.5 485h4.5M518.5 485h-4.5M40.5 483.53h4.5M518.5 483.53h-4.5M40.5 482.06h4.5M518.5 482.06h-4.5M40.5 480.59h4.5M518.5 480.59h-4.5M40.5 479.13h4.5M518.5 479.13h-4.5M40.5 477.66h4.5M518.5 477.66h-4.5M40.5 476.19h4.5M518.5 476.19h-4.5M40.5 474.73h4.5M518.5 474.73h-4.5M40.5 473.26h4.5M518.5 473.26h-4.5M40.5 471.79h4.5M518.5 471.79h-4.5M40.5 470.32h4.5M518.5 470.32h-4.5M40.5 468.86h4.5M518.5 468.86h-4.5M40.5 467.39h4.5M518.5 467.39h-4.5M40.5 465.92h4.5M518.5 465.92h-4.5M40.5 464.46h4.5M518.5 464.46h-4.5M40.5 462.99h4.5M518.5 462.99h-4.5M40.5 461.52h4.5M518.5 461.52h-4.5M40.5 460.06h4.5M518.5 460.06h-4.5M40.5 458.59h4.5M518.5 458.59h-4.5M40.5 457.12h4.5M518.5 457.12h-4.5M40.5 455.65h4.5M518.5 455.65h-4.5M40.5 454.19h4.5M518.5 454.19h-4.5M40.5 452.72h4.5M518.5 452.72h-4.5M40.5 451.25h4.5M518.5 451.25h-4.5M40.5 449.79h4.5M518.5 449.79h-4.5M40.5 448.32h4.5M518.5 448.32h-4.5M40.5 446.85h4.5M518.5 446.85h-4.5M40.5 445.39h4.5M518.5 445.39h-4.5M40.5 443.92h4.5M518.5 443.92h-4.5M40.5 442.45h4.5M518.5 442.45h-4.5M40.5 440.99h4.5M518.5 440.99h-4.5M40.5 439.52h4.5M518.5 439.52h-4.5M40.5 438.05h4.5M518.5 438.05h-4.5M40.5 436.58h4.5M518.5 436.58h-4.5M40.5 435.12h4.5M518.5 435.12h-4.5M40.5 433.65h4.5M518.5 433.65h-4.5M40.5 432.18h4.5M518.5 432.18h-4.5M40.5 430.72h4.5M518.5 430.72h-4.5M40.5 429.25h4.5M518.5 429.25h-4.5M40.5 427.78h4.5M518.5 427.78h-4.5M40.5 426.31h4.5M518.5 426.31h-4.5M40.5 424.85h4.5M518.5 424.85h-4.5M40.5 423.38h4.5M518.5 423.38h-4.5M40.5 421.91h4.5M518.5 421.91h-4.5M40.5 420.45h4.5M518.5 420.45h-4.5M40.5 418.98h4.5M518.5 418.98h-4.5" stroke="#c8c8c8" stroke-width="1" fill="none"/>
<path d="M40.5 507h9M518.5 507h-9M40.5 492.33h9M518.5 492.33h-9M40.5 477.66h9M518.5 477.66h-9M40.5 462.99h9M518.5 462.99h-9M40.5 448.32h9M518.5 448.32h-9M40.5 433.65h9M518.5 433.65h-9M40.5 418.98h9M518.5 418.98h-9M72 418v2M72 511v-2M111.85 418v2M111.85 511v-2M151.7 418v2M151.7 511v-2M191.55 418v2M191.55 511v-2M231.4 418v2M231.4 511v-2M271.25 418v2M271.25 511v-2M311.1 418v2M311.1 511v-2M350.95 418v2M350.95 511v-2M390.8 418v2M390.8 511v-2M430.65 418v2M430.65 511v-2M470.5 418v2M470.5 511v-2M510.35 418v2M510.35 511v-2" stroke="#a6a6a6" stroke-width="1" fill="none"/>
<rect x="40.5" y="418" width="478" height="93" stroke="#a6a6a6" stroke-width="1" fill="none"/>
<text x="37" y="511.6" text-anchor="end" class="b">3</text>
<text x="37" y="496.93" text-anchor="end" class="b">4</text>
<text x="37" y="482.26" text-anchor="end" class="b">5</text>
<text x="37" y="467.59" text-anchor="end" class="b">6</text>
<text x="37" y="452.92" text-anchor="end" class="b">7</text>
<text x="37" y="438.25" text-anchor="end" class="b">8</text>
<text x="37" y="425.3" text-anchor="end" class="b">9</text>
<path d="M203.5 427.6v4.9M200.7 427.6h5.7M200.7 432.5h5.7" stroke="#ff0000" stroke-width="0.9" fill="none"/>
<path d="M211.5 427.5v5M208.8 427.5h5.5M208.8 432.5h5.5" stroke="#0000ff" stroke-width="0.9" fill="none"/>
<text x="124.2" y="433.5" class="b">Pre-flare 3<tspan class="r">σ</tspan>:</text>
<clipPath id="c5"><rect x="40.5" y="418" width="478" height="93"/></clipPath>
<g clip-path="url(#c5)">
<circle cx="44" cy="494.8" r="3.05" fill="#ff0000"/>
<circle cx="51.97" cy="503" r="3.05" fill="#ff0000"/>
<circle cx="59.94" cy="492.1" r="3.05" fill="#ff0000"/>
<circle cx="67.91" cy="486.6" r="3.05" fill="#ff0000"/>
<circle cx="75.88" cy="486" r="3.05" fill="#ff0000"/>
<circle cx="83.85" cy="497.2" r="3.05" fill="#ff0000"/>
<circle cx="91.82" cy="472.3" r="3.05" fill="#ff0000"/>
<circle cx="99.79" cy="490.8" r="3.05" fill="#ff0000"/>
<circle cx="107.76" cy="488.9" r="3.05" fill="#ff0000"/>
<circle cx="115.73" cy="499" r="3.05" fill="#ff0000"/>
<circle cx="123.7" cy="503.6" r="3.05" fill="#ff0000"/>
<circle cx="131.67" cy="493.3" r="3.05" fill="#ff0000"/>
<circle cx="139.64" cy="489.9" r="3.05" fill="#ff0000"/>
<circle cx="147.61" cy="496.1" r="3.05" fill="#ff0000"/>
<circle cx="155.58" cy="496.6" r="3.05" fill="#ff0000"/>
<circle cx="163.55" cy="482.5" r="3.05" fill="#ff0000"/>
<circle cx="171.52" cy="490.8" r="3.05" fill="#ff0000"/>
<circle cx="179.49" cy="483.5" r="3.05" fill="#ff0000"/>
<circle cx="187.46" cy="474.1" r="3.05" fill="#ff0000"/>
<circle cx="195.43" cy="488.4" r="3.05" fill="#ff0000"/>
<circle cx="203.4" cy="485.1" r="3.05" fill="#ff0000"/>
<circle cx="211.37" cy="493.9" r="3.05" fill="#ff0000"/>
<circle cx="219.34" cy="492.6" r="3.05" fill="#ff0000"/>
<circle cx="227.31" cy="498.1" r="3.05" fill="#ff0000"/>
<circle cx="235.28" cy="495.2" r="3.05" fill="#ff0000"/>
<circle cx="243.25" cy="494.2" r="3.05" fill="#ff0000"/>
<circle cx="251.22" cy="495.2" r="3.05" fill="#ff0000"/>
<circle cx="259.19" cy="493.9" r="3.05" fill="#ff0000"/>
<circle cx="267.16" cy="484.2" r="3.05" fill="#ff0000"/>
<circle cx="275.13" cy="506.3" r="3.05" fill="#ff0000"/>
<circle cx="283.1" cy="492.6" r="3.05" fill="#ff0000"/>
<circle cx="291.07" cy="480.2" r="3.05" fill="#ff0000"/>
<circle cx="299.04" cy="435.9" r="3.05" fill="#ff0000"/>
<circle cx="307.01" cy="473.8" r="3.05" fill="#ff0000"/>
<circle cx="314.98" cy="491.5" r="3.05" fill="#ff0000"/>
<circle cx="322.95" cy="482" r="3.05" fill="#ff0000"/>
<circle cx="330.92" cy="493" r="3.05" fill="#ff0000"/>
<circle cx="338.89" cy="497.9" r="3.05" fill="#ff0000"/>
<circle cx="346.86" cy="496.6" r="3.05" fill="#ff0000"/>
<circle cx="354.83" cy="496.3" r="3.05" fill="#ff0000"/>
<circle cx="362.8" cy="495.7" r="3.05" fill="#ff0000"/>
<circle cx="370.77" cy="496.3" r="3.05" fill="#ff0000"/>
<circle cx="378.74" cy="497.5" r="3.05" fill="#ff0000"/>
<circle cx="386.71" cy="499.9" r="3.05" fill="#ff0000"/>
<circle cx="394.68" cy="500.8" r="3.05" fill="#ff0000"/>
<circle cx="402.65" cy="492.6" r="3.05" fill="#ff0000"/>
<circle cx="410.62" cy="492.5" r="3.05" fill="#ff0000"/>
<circle cx="418.59" cy="498.4" r="3.05" fill="#ff0000"/>
<circle cx="426.56" cy="497.6" r="3.05" fill="#ff0000"/>
<circle cx="434.53" cy="492.2" r="3.05" fill="#ff0000"/>
<circle cx="442.5" cy="494.4" r="3.05" fill="#ff0000"/>
<circle cx="450.47" cy="485.8" r="3.05" fill="#ff0000"/>
<circle cx="458.44" cy="486.7" r="3.05" fill="#ff0000"/>
<circle cx="466.41" cy="491" r="3.05" fill="#ff0000"/>
<circle cx="474.38" cy="494.2" r="3.05" fill="#ff0000"/>
<circle cx="482.35" cy="492" r="3.05" fill="#ff0000"/>
<circle cx="490.32" cy="495.2" r="3.05" fill="#ff0000"/>
<circle cx="498.29" cy="495.4" r="3.05" fill="#ff0000"/>
<circle cx="506.26" cy="492.2" r="3.05" fill="#ff0000"/>
<path d="M40.9 485.3L47.1 491.5M40.9 491.5L47.1 485.3M48.87 485.3L55.07 491.5M48.87 491.5L55.07 485.3M56.84 479.8L63.04 486M56.84 486L63.04 479.8M64.81 493.9L71.01 500.1M64.81 500.1L71.01 493.9M72.78 487.7L78.98 493.9M72.78 493.9L78.98 487.7M80.75 485.8L86.95 492M80.75 492L86.95 485.8M88.72 493.9L94.92 500.1M88.72 500.1L94.92 493.9M96.69 482.6L102.89 488.8M96.69 488.8L102.89 482.6M104.66 487.1L110.86 493.3M104.66 493.3L110.86 487.1M112.63 478.5L118.83 484.7M112.63 484.7L118.83 478.5M120.6 484.7L126.8 490.9M120.6 490.9L126.8 484.7M128.57 482.6L134.77 488.8M128.57 488.8L134.77 482.6M136.54 493.5L142.74 499.7M136.54 499.7L142.74 493.5M144.51 484L150.71 490.2M144.51 490.2L150.71 484M152.48 478.5L158.68 484.7M152.48 484.7L158.68 478.5M160.45 494.1L166.65 500.3M160.45 500.3L166.65 494.1M168.42 477.1L174.62 483.3M168.42 483.3L174.62 477.1M176.39 494.1L182.59 500.3M176.39 500.3L182.59 494.1M184.36 481.1L190.56 487.3M184.36 487.3L190.56 481.1M192.33 484.4L198.53 490.6M192.33 490.6L198.53 484.4M200.3 495.9L206.5 502.1M200.3 502.1L206.5 495.9M208.27 483.1L214.47 489.3M208.27 489.3L214.47 483.1M216.24 485.8L222.44 492M216.24 492L222.44 485.8M224.21 474.3L230.41 480.5M224.21 480.5L230.41 474.3M232.18 486.8L238.38 493M232.18 493L238.38 486.8M240.15 488.6L246.35 494.8M240.15 494.8L246.35 488.6M248.12 483.8L254.32 490M248.12 490L254.32 483.8M256.09 486.8L262.29 493M256.09 493L262.29 486.8M264.06 491.7L270.26 497.9M264.06 497.9L270.26 491.7M272.03 478.9L278.23 485.1M272.03 485.1L278.23 478.9M280 486.2L286.2 492.4M280 492.4L286.2 486.2M287.97 446L294.17 452.2M287.97 452.2L294.17 446M295.94 427.2L302.14 433.4M295.94 433.4L302.14 427.2M303.91 479.4L310.11 485.6M303.91 485.6L310.11 479.4M311.88 481.3L318.08 487.5M311.88 487.5L318.08 481.3M319.85 490.2L326.05 496.4M319.85 496.4L326.05 490.2M327.82 489.9L334.02 496.1M327.82 496.1L334.02 489.9M335.79 487.7L341.99 493.9M335.79 493.9L341.99 487.7M343.76 483.5L349.96 489.7M343.76 489.7L349.96 483.5M351.73 489.5L357.93 495.7M351.73 495.7L357.93 489.5M359.7 489.5L365.9 495.7M359.7 495.7L365.9 489.5M367.67 492.2L373.87 498.4M367.67 498.4L373.87 492.2M375.64 489.5L381.84 495.7M375.64 495.7L381.84 489.5M383.61 488.6L389.81 494.8M383.61 494.8L389.81 488.6M391.58 492.2L397.78 498.4M391.58 498.4L397.78 492.2M399.55 495.4L405.75 501.6M399.55 501.6L405.75 495.4M407.52 488L413.72 494.2M407.52 494.2L413.72 488M415.49 488.9L421.69 495.1M415.49 495.1L421.69 488.9M423.46 489.1L429.66 495.3M423.46 495.3L429.66 489.1M431.43 496L437.63 502.2M431.43 502.2L437.63 496M439.4 483.6L445.6 489.8M439.4 489.8L445.6 483.6M447.37 493.2L453.57 499.4M447.37 499.4L453.57 493.2M455.34 495.3L461.54 501.5M455.34 501.5L461.54 495.3M463.31 488.5L469.51 494.7M463.31 494.7L469.51 488.5M471.28 492.8L477.48 499M471.28 499L477.48 492.8M479.25 490L485.45 496.2M479.25 496.2L485.45 490M487.22 488.5L493.42 494.7M487.22 494.7L493.42 488.5M495.19 499.2L501.39 505.4M495.19 505.4L501.39 499.2M503.16 497L509.36 503.2M503.16 503.2L509.36 497" stroke="#0000ff" stroke-width="1" fill="none"/>
</g>
<path d="M292.5 419.4V511M296.4 419.4V511M300.5 419.4V511" stroke="#222" stroke-width="1" stroke-dasharray="1 2.93" fill="none"/>
<path d="M40.5 608.35h4.5M518.5 608.35h-4.5M40.5 602.73h4.5M518.5 602.73h-4.5M40.5 597.1h4.5M518.5 597.1h-4.5M40.5 591.48h4.5M518.5 591.48h-4.5M40.5 585.85h4.5M518.5 585.85h-4.5M40.5 580.23h4.5M518.5 580.23h-4.5M40.5 574.6h4.5M518.5 574.6h-4.5M40.5 568.98h4.5M518.5 568.98h-4.5M40.5 563.35h4.5M518.5 563.35h-4.5M40.5 557.73h4.5M518.5 557.73h-4.5M40.5 552.1h4.5M518.5 552.1h-4.5M40.5 546.48h4.5M518.5 546.48h-4.5M40.5 540.85h4.5M518.5 540.85h-4.5M40.5 535.23h4.5M518.5 535.23h-4.5M40.5 529.6h4.5M518.5 529.6h-4.5M40.5 523.98h4.5M518.5 523.98h-4.5M40.5 518.35h4.5M518.5 518.35h-4.5" stroke="#acacac" stroke-width="1" fill="none"/>
<path d="M40.5 597.1h9M518.5 597.1h-9M40.5 574.6h9M518.5 574.6h-9M40.5 552.1h9M518.5 552.1h-9M40.5 529.6h9M518.5 529.6h-9M72 516.5v2M72 609.5v-2M111.85 516.5v2M111.85 609.5v-2M151.7 516.5v2M151.7 609.5v-2M191.55 516.5v2M191.55 609.5v-2M231.4 516.5v2M231.4 609.5v-2M271.25 516.5v2M271.25 609.5v-2M311.1 516.5v2M311.1 609.5v-2M350.95 516.5v2M350.95 609.5v-2M390.8 516.5v2M390.8 609.5v-2M430.65 516.5v2M430.65 609.5v-2M470.5 516.5v2M470.5 609.5v-2M510.35 516.5v2M510.35 609.5v-2" stroke="#a6a6a6" stroke-width="1" fill="none"/>
<rect x="40.5" y="516.5" width="478" height="93" stroke="#a6a6a6" stroke-width="1" fill="none"/>
<text x="37" y="601.7" text-anchor="end" class="b">4</text>
<text x="37" y="579.2" text-anchor="end" class="b">6</text>
<text x="37" y="556.7" text-anchor="end" class="b">8</text>
<text x="37" y="534.2" text-anchor="end" class="b">10</text>
<path d="M203.5 526.8v3.7M200.7 526.8h5.7M200.7 530.5h5.7" stroke="#ff0000" stroke-width="0.9" fill="none"/>
<path d="M211.5 526.8v3.7M208.8 526.8h5.5M208.8 530.5h5.5" stroke="#0000ff" stroke-width="0.9" fill="none"/>
<text x="124.2" y="532" class="b">Pre-flare 3<tspan class="r">σ</tspan>:</text>
<clipPath id="c6"><rect x="40.5" y="516.5" width="478" height="93"/></clipPath>
<g clip-path="url(#c6)">
<circle cx="44" cy="599.2" r="3.05" fill="#ff0000"/>
<circle cx="51.97" cy="599.6" r="3.05" fill="#ff0000"/>
<circle cx="59.94" cy="600.1" r="3.05" fill="#ff0000"/>
<circle cx="67.91" cy="596.1" r="3.05" fill="#ff0000"/>
<circle cx="75.88" cy="600.1" r="3.05" fill="#ff0000"/>
<circle cx="83.85" cy="600.1" r="3.05" fill="#ff0000"/>
<circle cx="91.82" cy="591" r="3.05" fill="#ff0000"/>
<circle cx="99.79" cy="595" r="3.05" fill="#ff0000"/>
<circle cx="107.76" cy="601.6" r="3.05" fill="#ff0000"/>
<circle cx="115.73" cy="597.4" r="3.05" fill="#ff0000"/>
<circle cx="123.7" cy="597.7" r="3.05" fill="#ff0000"/>
<circle cx="131.67" cy="602.3" r="3.05" fill="#ff0000"/>
<circle cx="139.64" cy="597.7" r="3.05" fill="#ff0000"/>
<circle cx="147.61" cy="592.4" r="3.05" fill="#ff0000"/>
<circle cx="155.58" cy="593.7" r="3.05" fill="#ff0000"/>
<circle cx="163.55" cy="594.6" r="3.05" fill="#ff0000"/>
<circle cx="171.52" cy="593.7" r="3.05" fill="#ff0000"/>
<circle cx="179.49" cy="601" r="3.05" fill="#ff0000"/>
<circle cx="187.46" cy="588.8" r="3.05" fill="#ff0000"/>
<circle cx="195.43" cy="587.9" r="3.05" fill="#ff0000"/>
<circle cx="203.4" cy="597.4" r="3.05" fill="#ff0000"/>
<circle cx="211.37" cy="600.7" r="3.05" fill="#ff0000"/>
<circle cx="219.34" cy="598.3" r="3.05" fill="#ff0000"/>
<circle cx="227.31" cy="602.9" r="3.05" fill="#ff0000"/>
<circle cx="235.28" cy="604.1" r="3.05" fill="#ff0000"/>
<circle cx="243.25" cy="595.9" r="3.05" fill="#ff0000"/>
<circle cx="251.22" cy="602.9" r="3.05" fill="#ff0000"/>
<circle cx="259.19" cy="594.1" r="3.05" fill="#ff0000"/>
<circle cx="267.16" cy="605.6" r="3.05" fill="#ff0000"/>
<circle cx="275.13" cy="601.4" r="3.05" fill="#ff0000"/>
<circle cx="283.1" cy="584.9" r="3.05" fill="#ff0000"/>
<circle cx="291.07" cy="577.3" r="3.05" fill="#ff0000"/>
<circle cx="299.04" cy="528.3" r="3.05" fill="#ff0000"/>
<circle cx="307.01" cy="596.8" r="3.05" fill="#ff0000"/>
<circle cx="314.98" cy="600.1" r="3.05" fill="#ff0000"/>
<circle cx="322.95" cy="598.6" r="3.05" fill="#ff0000"/>
<circle cx="330.92" cy="595" r="3.05" fill="#ff0000"/>
<circle cx="338.89" cy="595.9" r="3.05" fill="#ff0000"/>
<circle cx="346.86" cy="597.9" r="3.05" fill="#ff0000"/>
<circle cx="354.83" cy="595.2" r="3.05" fill="#ff0000"/>
<circle cx="362.8" cy="601.9" r="3.05" fill="#ff0000"/>
<circle cx="370.77" cy="602.9" r="3.05" fill="#ff0000"/>
<circle cx="378.74" cy="595" r="3.05" fill="#ff0000"/>
<circle cx="386.71" cy="603.4" r="3.05" fill="#ff0000"/>
<circle cx="394.68" cy="600.7" r="3.05" fill="#ff0000"/>
<circle cx="402.65" cy="600.1" r="3.05" fill="#ff0000"/>
<circle cx="410.62" cy="602.9" r="3.05" fill="#ff0000"/>
<circle cx="418.59" cy="598.6" r="3.05" fill="#ff0000"/>
<circle cx="426.56" cy="599.6" r="3.05" fill="#ff0000"/>
<circle cx="434.53" cy="597.5" r="3.05" fill="#ff0000"/>
<circle cx="442.5" cy="597.7" r="3.05" fill="#ff0000"/>
<circle cx="450.47" cy="596.6" r="3.05" fill="#ff0000"/>
<circle cx="458.44" cy="600.3" r="3.05" fill="#ff0000"/>
<circle cx="466.41" cy="599.8" r="3.05" fill="#ff0000"/>
<circle cx="474.38" cy="600.3" r="3.05" fill="#ff0000"/>
<circle cx="482.35" cy="603" r="3.05" fill="#ff0000"/>
<circle cx="490.32" cy="599.6" r="3.05" fill="#ff0000"/>
<circle cx="498.29" cy="599.6" r="3.05" fill="#ff0000"/>
<circle cx="506.26" cy="602.8" r="3.05" fill="#ff0000"/>
<path d="M40.9 597.6L47.1 603.8M40.9 603.8L47.1 597.6M48.87 596.5L55.07 602.7M48.87 602.7L55.07 596.5M56.84 597.4L63.04 603.6M56.84 603.6L63.04 597.4M64.81 595.5L71.01 601.7M64.81 601.7L71.01 595.5M72.78 590.1L78.98 596.3M72.78 596.3L78.98 590.1M80.75 590.6L86.95 596.8M80.75 596.8L86.95 590.6M88.72 595.5L94.92 601.7M88.72 601.7L94.92 595.5M96.69 591.5L102.89 597.7M96.69 597.7L102.89 591.5M104.66 583.8L110.86 590M104.66 590L110.86 583.8M112.63 590.2L118.83 596.4M112.63 596.4L118.83 590.2M120.6 598.8L126.8 605M120.6 605L126.8 598.8M128.57 586.4L134.77 592.6M128.57 592.6L134.77 586.4M136.54 593.9L142.74 600.1M136.54 600.1L142.74 593.9M144.51 597.9L150.71 604.1M144.51 604.1L150.71 597.9M152.48 592.4L158.68 598.6M152.48 598.6L158.68 592.4M160.45 591.9L166.65 598.1M160.45 598.1L166.65 591.9M168.42 595.2L174.62 601.4M168.42 601.4L174.62 595.2M176.39 593.9L182.59 600.1M176.39 600.1L182.59 593.9M184.36 587.9L190.56 594.1M184.36 594.1L190.56 587.9M192.33 601.9L198.53 608.1M192.33 608.1L198.53 601.9M200.3 601.9L206.5 608.1M200.3 608.1L206.5 601.9M208.27 597.4L214.47 603.6M208.27 603.6L214.47 597.4M216.24 596.1L222.44 602.3M216.24 602.3L222.44 596.1M224.21 589.3L230.41 595.5M224.21 595.5L230.41 589.3M232.18 591.9L238.38 598.1M232.18 598.1L238.38 591.9M240.15 598.3L246.35 604.5M240.15 604.5L246.35 598.3M248.12 589.7L254.32 595.9M248.12 595.9L254.32 589.7M256.09 597.9L262.29 604.1M256.09 604.1L262.29 597.9M264.06 576.9L270.26 583.1M264.06 583.1L270.26 576.9M272.03 592.4L278.23 598.6M272.03 598.6L278.23 592.4M280 590.2L286.2 596.4M280 596.4L286.2 590.2M287.97 569.9L294.17 576.1M287.97 576.1L294.17 569.9M295.94 540.7L302.14 546.9M295.94 546.9L302.14 540.7M303.91 576L310.11 582.2M303.91 582.2L310.11 576M311.88 581.8L318.08 588M311.88 588L318.08 581.8M319.85 587L326.05 593.2M319.85 593.2L326.05 587M327.82 590.1L334.02 596.3M327.82 596.3L334.02 590.1M335.79 599.4L341.99 605.6M335.79 605.6L341.99 599.4M343.76 590.6L349.96 596.8M343.76 596.8L349.96 590.6M351.73 598.3L357.93 604.5M351.73 604.5L357.93 598.3M359.7 587.9L365.9 594.1M359.7 594.1L365.9 587.9M367.67 587L373.87 593.2M367.67 593.2L373.87 587M375.64 596.5L381.84 602.7M375.64 602.7L381.84 596.5M383.61 595.5L389.81 601.7M383.61 601.7L389.81 595.5M391.58 597.6L397.78 603.8M391.58 603.8L397.78 597.6M399.55 590.6L405.75 596.8M399.55 596.8L405.75 590.6M407.52 590.7L413.72 596.9M407.52 596.9L413.72 590.7M415.49 595.5L421.69 601.7M415.49 601.7L421.69 595.5M423.46 592.3L429.66 598.5M423.46 598.5L429.66 592.3M431.43 594L437.63 600.2M431.43 600.2L437.63 594M439.4 591.4L445.6 597.6M439.4 597.6L445.6 591.4M447.37 596.7L453.57 602.9M447.37 602.9L453.57 596.7M455.34 588.6L461.54 594.8M455.34 594.8L461.54 588.6M463.31 595.5L469.51 601.7M463.31 601.7L469.51 595.5M471.28 594L477.48 600.2M471.28 600.2L477.48 594M479.25 591.8L485.45 598M479.25 598L485.45 591.8M487.22 596.1L493.42 602.3M487.22 602.3L493.42 596.1M495.19 596.1L501.39 602.3M495.19 602.3L501.39 596.1M503.16 590.8L509.36 597M503.16 597L509.36 590.8" stroke="#0000ff" stroke-width="1" fill="none"/>
</g>
<path d="M292.5 517.9V609.5M296.4 517.9V609.5M300.5 517.9V609.5" stroke="#222" stroke-width="1" stroke-dasharray="1 2.93" fill="none"/>
<path d="M40.5 707.93h4.5M518.5 707.93h-4.5M40.5 705.09h4.5M518.5 705.09h-4.5M40.5 702.25h4.5M518.5 702.25h-4.5M40.5 699.4h4.5M518.5 699.4h-4.5M40.5 696.55h4.5M518.5 696.55h-4.5M40.5 693.71h4.5M518.5 693.71h-4.5M40.5 690.87h4.5M518.5 690.87h-4.5M40.5 688.02h4.5M518.5 688.02h-4.5M40.5 685.17h4.5M518.5 685.17h-4.5M40.5 682.33h4.5M518.5 682.33h-4.5M40.5 679.49h4.5M518.5 679.49h-4.5M40.5 676.64h4.5M518.5 676.64h-4.5M40.5 673.79h4.5M518.5 673.79h-4.5M40.5 670.95h4.5M518.5 670.95h-4.5M40.5 668.11h4.5M518.5 668.11h-4.5M40.5 665.26h4.5M518.5 665.26h-4.5M40.5 662.41h4.5M518.5 662.41h-4.5M40.5 659.57h4.5M518.5 659.57h-4.5M40.5 656.73h4.5M518.5 656.73h-4.5M40.5 653.88h4.5M518.5 653.88h-4.5M40.5 651.03h4.5M518.5 651.03h-4.5M40.5 648.19h4.5M518.5 648.19h-4.5M40.5 645.35h4.5M518.5 645.35h-4.5M40.5 642.5h4.5M518.5 642.5h-4.5M40.5 639.65h4.5M518.5 639.65h-4.5M40.5 636.81h4.5M518.5 636.81h-4.5M40.5 633.96h4.5M518.5 633.96h-4.5M40.5 631.12h4.5M518.5 631.12h-4.5M40.5 628.27h4.5M518.5 628.27h-4.5M40.5 625.43h4.5M518.5 625.43h-4.5M40.5 622.59h4.5M518.5 622.59h-4.5M40.5 619.74h4.5M518.5 619.74h-4.5M40.5 616.89h4.5M518.5 616.89h-4.5" stroke="#acacac" stroke-width="1" fill="none"/>
<path d="M40.5 699.4h9M518.5 699.4h-9M40.5 685.17h9M518.5 685.17h-9M40.5 670.95h9M518.5 670.95h-9M40.5 656.73h9M518.5 656.73h-9M40.5 642.5h9M518.5 642.5h-9M40.5 628.27h9M518.5 628.27h-9M72 615.5v2M72 708.5v-2M111.85 615.5v2M111.85 708.5v-2M151.7 615.5v2M151.7 708.5v-2M191.55 615.5v2M191.55 708.5v-2M231.4 615.5v2M231.4 708.5v-2M271.25 615.5v2M271.25 708.5v-2M311.1 615.5v2M311.1 708.5v-2M350.95 615.5v2M350.95 708.5v-2M390.8 615.5v2M390.8 708.5v-2M430.65 615.5v2M430.65 708.5v-2M470.5 615.5v2M470.5 708.5v-2M510.35 615.5v2M510.35 708.5v-2" stroke="#a6a6a6" stroke-width="1" fill="none"/>
<rect x="40.5" y="615.5" width="478" height="93" stroke="#a6a6a6" stroke-width="1" fill="none"/>
<text x="37" y="704" text-anchor="end" class="b">1.0</text>
<text x="37" y="689.77" text-anchor="end" class="b">1.5</text>
<text x="37" y="675.55" text-anchor="end" class="b">2.0</text>
<text x="37" y="661.33" text-anchor="end" class="b">2.5</text>
<text x="37" y="647.1" text-anchor="end" class="b">3.0</text>
<text x="37" y="632.88" text-anchor="end" class="b">3.5</text>
<path d="M203.5 625.8v2.6M200.7 625.8h5.7M200.7 628.4h5.7" stroke="#ff0000" stroke-width="0.9" fill="none"/>
<path d="M211.5 625.6v3.9M208.8 625.6h5.5M208.8 629.5h5.5" stroke="#0000ff" stroke-width="0.9" fill="none"/>
<text x="124.2" y="631" class="b">Pre-flare 3<tspan class="r">σ</tspan>:</text>
<clipPath id="c7"><rect x="40.5" y="615.5" width="478" height="93"/></clipPath>
<g clip-path="url(#c7)">
<circle cx="44" cy="700" r="3.05" fill="#ff0000"/>
<circle cx="51.97" cy="701.9" r="3.05" fill="#ff0000"/>
<circle cx="59.94" cy="699.7" r="3.05" fill="#ff0000"/>
<circle cx="67.91" cy="700.6" r="3.05" fill="#ff0000"/>
<circle cx="75.88" cy="693.1" r="3.05" fill="#ff0000"/>
<circle cx="83.85" cy="700" r="3.05" fill="#ff0000"/>
<circle cx="91.82" cy="696" r="3.05" fill="#ff0000"/>
<circle cx="99.79" cy="697.3" r="3.05" fill="#ff0000"/>
<circle cx="107.76" cy="694.9" r="3.05" fill="#ff0000"/>
<circle cx="115.73" cy="692.2" r="3.05" fill="#ff0000"/>
<circle cx="123.7" cy="701.3" r="3.05" fill="#ff0000"/>
<circle cx="131.67" cy="696.7" r="3.05" fill="#ff0000"/>
<circle cx="139.64" cy="699.1" r="3.05" fill="#ff0000"/>
<circle cx="147.61" cy="694.5" r="3.05" fill="#ff0000"/>
<circle cx="155.58" cy="696.7" r="3.05" fill="#ff0000"/>
<circle cx="163.55" cy="695.5" r="3.05" fill="#ff0000"/>
<circle cx="171.52" cy="699.5" r="3.05" fill="#ff0000"/>
<circle cx="179.49" cy="700.4" r="3.05" fill="#ff0000"/>
<circle cx="187.46" cy="685.8" r="3.05" fill="#ff0000"/>
<circle cx="195.43" cy="698.2" r="3.05" fill="#ff0000"/>
<circle cx="203.4" cy="699.7" r="3.05" fill="#ff0000"/>
<circle cx="211.37" cy="695.5" r="3.05" fill="#ff0000"/>
<circle cx="219.34" cy="698.7" r="3.05" fill="#ff0000"/>
<circle cx="227.31" cy="693.6" r="3.05" fill="#ff0000"/>
<circle cx="235.28" cy="693.1" r="3.05" fill="#ff0000"/>
<circle cx="243.25" cy="700.9" r="3.05" fill="#ff0000"/>
<circle cx="251.22" cy="698.6" r="3.05" fill="#ff0000"/>
<circle cx="259.19" cy="702.2" r="3.05" fill="#ff0000"/>
<circle cx="267.16" cy="684.8" r="3.05" fill="#ff0000"/>
<circle cx="275.13" cy="701.9" r="3.05" fill="#ff0000"/>
<circle cx="283.1" cy="699.1" r="3.05" fill="#ff0000"/>
<circle cx="291.07" cy="685.8" r="3.05" fill="#ff0000"/>
<circle cx="299.04" cy="625.4" r="3.05" fill="#ff0000"/>
<circle cx="307.01" cy="679.5" r="3.05" fill="#ff0000"/>
<circle cx="314.98" cy="689.6" r="3.05" fill="#ff0000"/>
<circle cx="322.95" cy="690.9" r="3.05" fill="#ff0000"/>
<circle cx="330.92" cy="699.1" r="3.05" fill="#ff0000"/>
<circle cx="338.89" cy="694.5" r="3.05" fill="#ff0000"/>
<circle cx="346.86" cy="699.5" r="3.05" fill="#ff0000"/>
<circle cx="354.83" cy="699.1" r="3.05" fill="#ff0000"/>
<circle cx="362.8" cy="700" r="3.05" fill="#ff0000"/>
<circle cx="370.77" cy="694.9" r="3.05" fill="#ff0000"/>
<circle cx="378.74" cy="699.7" r="3.05" fill="#ff0000"/>
<circle cx="386.71" cy="700.4" r="3.05" fill="#ff0000"/>
<circle cx="394.68" cy="700.4" r="3.05" fill="#ff0000"/>
<circle cx="402.65" cy="694.9" r="3.05" fill="#ff0000"/>
<circle cx="410.62" cy="703.8" r="3.05" fill="#ff0000"/>
<circle cx="418.59" cy="699.7" r="3.05" fill="#ff0000"/>
<circle cx="426.56" cy="699.9" r="3.05" fill="#ff0000"/>
<circle cx="434.53" cy="699.3" r="3.05" fill="#ff0000"/>
<circle cx="442.5" cy="701" r="3.05" fill="#ff0000"/>
<circle cx="450.47" cy="698.6" r="3.05" fill="#ff0000"/>
<circle cx="458.44" cy="700.8" r="3.05" fill="#ff0000"/>
<circle cx="466.41" cy="701" r="3.05" fill="#ff0000"/>
<circle cx="474.38" cy="701" r="3.05" fill="#ff0000"/>
<circle cx="482.35" cy="700.3" r="3.05" fill="#ff0000"/>
<circle cx="490.32" cy="705.2" r="3.05" fill="#ff0000"/>
<circle cx="498.29" cy="702.9" r="3.05" fill="#ff0000"/>
<circle cx="506.26" cy="699.9" r="3.05" fill="#ff0000"/>
<path d="M40.9 693.3L47.1 699.5M40.9 699.5L47.1 693.3M48.87 692.4L55.07 698.6M48.87 698.6L55.07 692.4M56.84 693.3L63.04 699.5M56.84 699.5L63.04 693.3M64.81 693.3L71.01 699.5M64.81 699.5L71.01 693.3M72.78 695.5L78.98 701.7M72.78 701.7L78.98 695.5M80.75 692.4L86.95 698.6M80.75 698.6L86.95 692.4M88.72 692.4L94.92 698.6M88.72 698.6L94.92 692.4M96.69 691.1L102.89 697.3M96.69 697.3L102.89 691.1M104.66 691.8L110.86 698M104.66 698L110.86 691.8M112.63 693.6L118.83 699.8M112.63 699.8L118.83 693.6M120.6 692.4L126.8 698.6M120.6 698.6L126.8 692.4M128.57 693.3L134.77 699.5M128.57 699.5L134.77 693.3M136.54 691.8L142.74 698M136.54 698L142.74 691.8M144.51 694.5L150.71 700.7M144.51 700.7L150.71 694.5M152.48 694.2L158.68 700.4M152.48 700.4L158.68 694.2M160.45 694.2L166.65 700.4M160.45 700.4L166.65 694.2M168.42 686.5L174.62 692.7M168.42 692.7L174.62 686.5M176.39 692.9L182.59 699.1M176.39 699.1L182.59 692.9M184.36 696L190.56 702.2M184.36 702.2L190.56 696M192.33 692.4L198.53 698.6M192.33 698.6L198.53 692.4M200.3 695.5L206.5 701.7M200.3 701.7L206.5 695.5M208.27 695.6L214.47 701.8M208.27 701.8L214.47 695.6M216.24 692.4L222.44 698.6M216.24 698.6L222.44 692.4M224.21 693.6L230.41 699.8M224.21 699.8L230.41 693.6M232.18 696.9L238.38 703.1M232.18 703.1L238.38 696.9M240.15 689.6L246.35 695.8M240.15 695.8L246.35 689.6M248.12 690.5L254.32 696.7M248.12 696.7L254.32 690.5M256.09 683.8L262.29 690M256.09 690L262.29 683.8M264.06 690.9L270.26 697.1M264.06 697.1L270.26 690.9M272.03 685.4L278.23 691.6M272.03 691.6L278.23 685.4M280 670.4L286.2 676.6M280 676.6L286.2 670.4M287.97 661.6L294.17 667.8M287.97 667.8L294.17 661.6M295.94 681.7L302.14 687.9M295.94 687.9L302.14 681.7M303.91 692.4L310.11 698.6M303.91 698.6L310.11 692.4M311.88 698.2L318.08 704.4M311.88 704.4L318.08 698.2M319.85 700L326.05 706.2M319.85 706.2L326.05 700M327.82 688.7L334.02 694.9M327.82 694.9L334.02 688.7M335.79 695.6L341.99 701.8M335.79 701.8L341.99 695.6M343.76 696L349.96 702.2M343.76 702.2L349.96 696M351.73 698.8L357.93 705M351.73 705L357.93 698.8M359.7 694.5L365.9 700.7M359.7 700.7L365.9 694.5M367.67 700.9L373.87 707.1M367.67 707.1L373.87 700.9M375.64 696.6L381.84 702.8M375.64 702.8L381.84 696.6M383.61 699.7L389.81 705.9M383.61 705.9L389.81 699.7M391.58 701.5L397.78 707.7M391.58 707.7L397.78 701.5M399.55 702.4L405.75 708.6M399.55 708.6L405.75 702.4M407.52 696.1L413.72 702.3M407.52 702.3L413.72 696.1M415.49 699.4L421.69 705.6M415.49 705.6L421.69 699.4M423.46 699.8L429.66 706M423.46 706L429.66 699.8M431.43 698.3L437.63 704.5M431.43 704.5L437.63 698.3M439.4 697.9L445.6 704.1M439.4 704.1L445.6 697.9M447.37 698.9L453.57 705.1M447.37 705.1L453.57 698.9M455.34 698.3L461.54 704.5M455.34 704.5L461.54 698.3M463.31 699.4L469.51 705.6M463.31 705.6L469.51 699.4M471.28 701.5L477.48 707.7M471.28 707.7L477.48 701.5M479.25 699.4L485.45 705.6M479.25 705.6L485.45 699.4M487.22 698.3L493.42 704.5M487.22 704.5L493.42 698.3M495.19 699.4L501.39 705.6M495.19 705.6L501.39 699.4M503.16 700.4L509.36 706.6M503.16 706.6L509.36 700.4" stroke="#0000ff" stroke-width="1" fill="none"/>
</g>
<path d="M292.5 616.9V708.5M296.4 616.9V708.5M300.5 616.9V708.5" stroke="#222" stroke-width="1" stroke-dasharray="1 2.93" fill="none"/>
<path d="M40.5 805.45h4.5M518.5 805.45h-4.5M40.5 803.84h4.5M518.5 803.84h-4.5M40.5 802.23h4.5M518.5 802.23h-4.5M40.5 800.62h4.5M518.5 800.62h-4.5M40.5 799.02h4.5M518.5 799.02h-4.5M40.5 797.41h4.5M518.5 797.41h-4.5M40.5 795.8h4.5M518.5 795.8h-4.5M40.5 794.19h4.5M518.5 794.19h-4.5M40.5 792.58h4.5M518.5 792.58h-4.5M40.5 790.98h4.5M518.5 790.98h-4.5M40.5 789.37h4.5M518.5 789.37h-4.5M40.5 787.76h4.5M518.5 787.76h-4.5M40.5 786.15h4.5M518.5 786.15h-4.5M40.5 784.54h4.5M518.5 784.54h-4.5M40.5 782.94h4.5M518.5 782.94h-4.5M40.5 781.33h4.5M518.5 781.33h-4.5M40.5 779.72h4.5M518.5 779.72h-4.5M40.5 778.11h4.5M518.5 778.11h-4.5M40.5 776.5h4.5M518.5 776.5h-4.5M40.5 774.9h4.5M518.5 774.9h-4.5M40.5 773.29h4.5M518.5 773.29h-4.5M40.5 771.68h4.5M518.5 771.68h-4.5M40.5 770.07h4.5M518.5 770.07h-4.5M40.5 768.46h4.5M518.5 768.46h-4.5M40.5 766.86h4.5M518.5 766.86h-4.5M40.5 765.25h4.5M518.5 765.25h-4.5M40.5 763.64h4.5M518.5 763.64h-4.5M40.5 762.03h4.5M518.5 762.03h-4.5M40.5 760.42h4.5M518.5 760.42h-4.5M40.5 758.82h4.5M518.5 758.82h-4.5M40.5 757.21h4.5M518.5 757.21h-4.5M40.5 755.6h4.5M518.5 755.6h-4.5M40.5 753.99h4.5M518.5 753.99h-4.5M40.5 752.38h4.5M518.5 752.38h-4.5M40.5 750.78h4.5M518.5 750.78h-4.5M40.5 749.17h4.5M518.5 749.17h-4.5M40.5 747.56h4.5M518.5 747.56h-4.5M40.5 745.95h4.5M518.5 745.95h-4.5M40.5 744.34h4.5M518.5 744.34h-4.5M40.5 742.74h4.5M518.5 742.74h-4.5M40.5 741.13h4.5M518.5 741.13h-4.5M40.5 739.52h4.5M518.5 739.52h-4.5M40.5 737.91h4.5M518.5 737.91h-4.5M40.5 736.3h4.5M518.5 736.3h-4.5M40.5 734.7h4.5M518.5 734.7h-4.5M40.5 733.09h4.5M518.5 733.09h-4.5M40.5 731.48h4.5M518.5 731.48h-4.5M40.5 729.87h4.5M518.5 729.87h-4.5M40.5 728.26h4.5M518.5 728.26h-4.5M40.5 726.66h4.5M518.5 726.66h-4.5M40.5 725.05h4.5M518.5 725.05h-4.5M40.5 723.44h4.5M518.5 723.44h-4.5M40.5 721.83h4.5M518.5 721.83h-4.5M40.5 720.22h4.5M518.5 720.22h-4.5M40.5 718.62h4.5M518.5 718.62h-4.5M40.5 717.01h4.5M518.5 717.01h-4.5M40.5 715.4h4.5M518.5 715.4h-4.5" stroke="#c8c8c8" stroke-width="1" fill="none"/>
<path d="M40.5 795.8h9M518.5 795.8h-9M40.5 779.72h9M518.5 779.72h-9M40.5 763.64h9M518.5 763.64h-9M40.5 747.56h9M518.5 747.56h-9M40.5 731.48h9M518.5 731.48h-9M40.5 715.4h9M518.5 715.4h-9M72 714v2M72 806.7v-2M111.85 714v2M111.85 806.7v-2M151.7 714v2M151.7 806.7v-2M191.55 714v2M191.55 806.7v-2M231.4 714v2M231.4 806.7v-2M271.25 714v2M271.25 806.7v-2M311.1 714v2M311.1 806.7v-2M350.95 714v2M350.95 806.7v-2M390.8 714v2M390.8 806.7v-2M430.65 714v2M430.65 806.7v-2M470.5 714v2M470.5 806.7v-2M510.35 714v2M510.35 806.7v-2" stroke="#a6a6a6" stroke-width="1" fill="none"/>
<rect x="40.5" y="714" width="478" height="92.7" stroke="#a6a6a6" stroke-width="1" fill="none"/>
<text x="37" y="800.4" text-anchor="end" class="b">0.3</text>
<text x="37" y="784.32" text-anchor="end" class="b">0.4</text>
<text x="37" y="768.24" text-anchor="end" class="b">0.5</text>
<text x="37" y="752.16" text-anchor="end" class="b">0.6</text>
<text x="37" y="736.08" text-anchor="end" class="b">0.7</text>
<text x="37" y="721.2" text-anchor="end" class="b">0.8</text>
<path d="M203.5 722.7v6.6M200.7 722.7h5.7M200.7 729.3h5.7" stroke="#ff0000" stroke-width="0.9" fill="none"/>
<path d="M211.5 723.4v5.2M208.8 723.4h5.5M208.8 728.6h5.5" stroke="#0000ff" stroke-width="0.9" fill="none"/>
<text x="124.2" y="729.5" class="b">Pre-flare 3<tspan class="r">σ</tspan>:</text>
<clipPath id="c8"><rect x="40.5" y="714" width="478" height="92.7"/></clipPath>
<g clip-path="url(#c8)">
<circle cx="44" cy="792" r="3.05" fill="#ff0000"/>
<circle cx="51.97" cy="793.1" r="3.05" fill="#ff0000"/>
<circle cx="59.94" cy="788.9" r="3.05" fill="#ff0000"/>
<circle cx="67.91" cy="801.1" r="3.05" fill="#ff0000"/>
<circle cx="75.88" cy="797.7" r="3.05" fill="#ff0000"/>
<circle cx="83.85" cy="791.3" r="3.05" fill="#ff0000"/>
<circle cx="91.82" cy="794.7" r="3.05" fill="#ff0000"/>
<circle cx="99.79" cy="774.3" r="3.05" fill="#ff0000"/>
<circle cx="107.76" cy="790.3" r="3.05" fill="#ff0000"/>
<circle cx="115.73" cy="788.3" r="3.05" fill="#ff0000"/>
<circle cx="123.7" cy="791.3" r="3.05" fill="#ff0000"/>
<circle cx="131.67" cy="787.6" r="3.05" fill="#ff0000"/>
<circle cx="139.64" cy="791.3" r="3.05" fill="#ff0000"/>
<circle cx="147.61" cy="787.6" r="3.05" fill="#ff0000"/>
<circle cx="155.58" cy="786.1" r="3.05" fill="#ff0000"/>
<circle cx="163.55" cy="786.5" r="3.05" fill="#ff0000"/>
<circle cx="171.52" cy="779.2" r="3.05" fill="#ff0000"/>
<circle cx="179.49" cy="789.4" r="3.05" fill="#ff0000"/>
<circle cx="187.46" cy="769.3" r="3.05" fill="#ff0000"/>
<circle cx="195.43" cy="777.4" r="3.05" fill="#ff0000"/>
<circle cx="203.4" cy="793.1" r="3.05" fill="#ff0000"/>
<circle cx="211.37" cy="784.3" r="3.05" fill="#ff0000"/>
<circle cx="219.34" cy="795.6" r="3.05" fill="#ff0000"/>
<circle cx="227.31" cy="775.2" r="3.05" fill="#ff0000"/>
<circle cx="235.28" cy="781" r="3.05" fill="#ff0000"/>
<circle cx="243.25" cy="787.6" r="3.05" fill="#ff0000"/>
<circle cx="251.22" cy="782.1" r="3.05" fill="#ff0000"/>
<circle cx="259.19" cy="785.8" r="3.05" fill="#ff0000"/>
<circle cx="267.16" cy="745.4" r="3.05" fill="#ff0000"/>
<circle cx="275.13" cy="783.8" r="3.05" fill="#ff0000"/>
<circle cx="283.1" cy="795.6" r="3.05" fill="#ff0000"/>
<circle cx="291.07" cy="748.3" r="3.05" fill="#ff0000"/>
<circle cx="299.04" cy="725.4" r="3.05" fill="#ff0000"/>
<circle cx="307.01" cy="795.3" r="3.05" fill="#ff0000"/>
<circle cx="314.98" cy="788" r="3.05" fill="#ff0000"/>
<circle cx="322.95" cy="790.2" r="3.05" fill="#ff0000"/>
<circle cx="330.92" cy="788.9" r="3.05" fill="#ff0000"/>
<circle cx="338.89" cy="776.6" r="3.05" fill="#ff0000"/>
<circle cx="346.86" cy="788.9" r="3.05" fill="#ff0000"/>
<circle cx="354.83" cy="793.5" r="3.05" fill="#ff0000"/>
<circle cx="362.8" cy="791.6" r="3.05" fill="#ff0000"/>
<circle cx="370.77" cy="790.7" r="3.05" fill="#ff0000"/>
<circle cx="378.74" cy="794.4" r="3.05" fill="#ff0000"/>
<circle cx="386.71" cy="795.3" r="3.05" fill="#ff0000"/>
<circle cx="394.68" cy="794.9" r="3.05" fill="#ff0000"/>
<circle cx="402.65" cy="793.8" r="3.05" fill="#ff0000"/>
<circle cx="410.62" cy="799.3" r="3.05" fill="#ff0000"/>
<circle cx="418.59" cy="790.4" r="3.05" fill="#ff0000"/>
<circle cx="426.56" cy="797.9" r="3.05" fill="#ff0000"/>
<circle cx="434.53" cy="795.1" r="3.05" fill="#ff0000"/>
<circle cx="442.5" cy="792.6" r="3.05" fill="#ff0000"/>
<circle cx="450.47" cy="792.6" r="3.05" fill="#ff0000"/>
<circle cx="458.44" cy="800" r="3.05" fill="#ff0000"/>
<circle cx="466.41" cy="793" r="3.05" fill="#ff0000"/>
<circle cx="474.38" cy="795.8" r="3.05" fill="#ff0000"/>
<circle cx="482.35" cy="798.3" r="3.05" fill="#ff0000"/>
<circle cx="490.32" cy="796.8" r="3.05" fill="#ff0000"/>
<circle cx="498.29" cy="797.7" r="3.05" fill="#ff0000"/>
<circle cx="506.26" cy="794.5" r="3.05" fill="#ff0000"/>
<path d="M40.9 775.2L47.1 781.4M40.9 781.4L47.1 775.2M48.87 780.3L55.07 786.5M48.87 786.5L55.07 780.3M56.84 783.6L63.04 789.8M56.84 789.8L63.04 783.6M64.81 773L71.01 779.2M64.81 779.2L71.01 773M72.78 775.7L78.98 781.9M72.78 781.9L78.98 775.7M80.75 779.4L86.95 785.6M80.75 785.6L86.95 779.4M88.72 767.5L94.92 773.7M88.72 773.7L94.92 767.5M96.69 788.2L102.89 794.4M96.69 794.4L102.89 788.2M104.66 778.5L110.86 784.7M104.66 784.7L110.86 778.5M112.63 779.9L118.83 786.1M112.63 786.1L118.83 779.9M120.6 779.9L126.8 786.1M120.6 786.1L126.8 779.9M128.57 783L134.77 789.2M128.57 789.2L134.77 783M136.54 780.3L142.74 786.5M136.54 786.5L142.74 780.3M144.51 785.8L150.71 792M144.51 792L150.71 785.8M152.48 787.6L158.68 793.8M152.48 793.8L158.68 787.6M160.45 776.3L166.65 782.5M160.45 782.5L166.65 776.3M168.42 783L174.62 789.2M168.42 789.2L174.62 783M176.39 789.4L182.59 795.6M176.39 795.6L182.59 789.4M184.36 779.9L190.56 786.1M184.36 786.1L190.56 779.9M192.33 783L198.53 789.2M192.33 789.2L198.53 783M200.3 777.6L206.5 783.8M200.3 783.8L206.5 777.6M208.27 785.8L214.47 792M208.27 792L214.47 785.8M216.24 764.8L222.44 771M216.24 771L222.44 764.8M224.21 776.9L230.41 783.1M224.21 783.1L230.41 776.9M232.18 778.5L238.38 784.7M232.18 784.7L238.38 778.5M240.15 779.4L246.35 785.6M240.15 785.6L246.35 779.4M248.12 781.2L254.32 787.4M248.12 787.4L254.32 781.2M256.09 746.5L262.29 752.7M256.09 752.7L262.29 746.5M264.06 776.6L270.26 782.8M264.06 782.8L270.26 776.6M272.03 779.4L278.23 785.6M272.03 785.6L278.23 779.4M280 743.7L286.2 749.9M280 749.9L286.2 743.7M287.97 757.8L294.17 764M287.97 764L294.17 757.8M295.94 727.6L302.14 733.8M295.94 733.8L302.14 727.6M303.91 769.7L310.11 775.9M303.91 775.9L310.11 769.7M311.88 786.3L318.08 792.5M311.88 792.5L318.08 786.3M319.85 785.2L326.05 791.4M319.85 791.4L326.05 785.2M327.82 778.1L334.02 784.3M327.82 784.3L334.02 778.1M335.79 789.8L341.99 796M335.79 796L341.99 789.8M343.76 786.7L349.96 792.9M343.76 792.9L349.96 786.7M351.73 796.4L357.93 802.6M351.73 802.6L357.93 796.4M359.7 790.9L365.9 797.1M359.7 797.1L365.9 790.9M367.67 791.8L373.87 798M367.67 798L373.87 791.8M375.64 792.2L381.84 798.4M375.64 798.4L381.84 792.2M383.61 797.7L389.81 803.9M383.61 803.9L389.81 797.7M391.58 797.3L397.78 803.5M391.58 803.5L397.78 797.3M399.55 794.9L405.75 801.1M399.55 801.1L405.75 794.9M407.52 785L413.72 791.2M407.52 791.2L413.72 785M415.49 799.1L421.69 805.3M415.49 805.3L421.69 799.1M423.46 790.5L429.66 796.7M423.46 796.7L429.66 790.5M431.43 790.5L437.63 796.7M431.43 796.7L437.63 790.5M439.4 790.5L445.6 796.7M439.4 796.7L445.6 790.5M447.37 797.4L453.57 803.6M447.37 803.6L453.57 797.4M455.34 792L461.54 798.2M455.34 798.2L461.54 792M463.31 797.4L469.51 803.6M463.31 803.6L469.51 797.4M471.28 792.7L477.48 798.9M471.28 798.9L477.48 792.7M479.25 793.7L485.45 799.9M479.25 799.9L485.45 793.7M487.22 795.9L493.42 802.1M487.22 802.1L493.42 795.9M495.19 795.2L501.39 801.4M495.19 801.4L501.39 795.2M503.16 792L509.36 798.2M503.16 798.2L509.36 792" stroke="#0000ff" stroke-width="1" fill="none"/>
</g>
<path d="M292.5 715.4V806.7M296.4 715.4V806.7M300.5 715.4V806.7" stroke="#222" stroke-width="1" stroke-dasharray="1 2.93" fill="none"/>
<text x="56.38" y="37.8" class="r" style="font-size:12px"><tspan style="fill:#3a3a3a">∫</tspan></text>
<text x="62.5" y="38.8" class="r" style="font-size:12px">δ</text>
<text x="68.2" y="38.8" class="b" style="font-size:12px">B</text>
<text x="76.47" y="40.9" class="b" style="font-size:8px">r</text>
<text x="83.41" y="38.8" class="b" style="font-size:12px">dA</text>
<text x="56.38" y="136.8" class="r" style="font-size:12px"><tspan style="fill:#3a3a3a">∫</tspan></text>
<text x="62.5" y="137.8" class="r" style="font-size:12px">δ</text>
<text x="68.2" y="137.8" class="b" style="font-size:12px">B</text>
<path d="M79.4 133.2V141.5" stroke="#777" stroke-width="0.9" fill="none"/>
<path d="M83.8 133.2V141.5" stroke="#777" stroke-width="0.9" fill="none"/>
<text x="89.21" y="137.8" class="b" style="font-size:12px">dA</text>
<text x="56.38" y="235.3" class="r" style="font-size:12px"><tspan style="fill:#3a3a3a">∫</tspan></text>
<text x="62.5" y="236.3" class="r" style="font-size:12px">δ</text>
<text x="68.2" y="236.3" class="b" style="font-size:12px">B</text>
<path d="M79.4 234.1V238.5" stroke="#777" stroke-width="0.9" fill="none"/>
<path d="M77.1 238.5H81.7" stroke="#777" stroke-width="0.9" fill="none"/>
<text x="84.91" y="236.3" class="b" style="font-size:12px">dA</text>
<text x="55.8" y="334.8" class="r" style="font-size:12px">δ</text>
<text x="62.2" y="334.8" class="b" style="font-size:12px">F</text>
<text x="69.47" y="336.9" class="b" style="font-size:8px">r</text>
<text x="55.8" y="433.3" class="r" style="font-size:12px">δ</text>
<text x="62.2" y="433.3" class="b" style="font-size:12px">F</text>
<path d="M71.4 428.7V437" stroke="#777" stroke-width="0.9" fill="none"/>
<path d="M75.8 428.7V437" stroke="#777" stroke-width="0.9" fill="none"/>
<text x="55.8" y="531.8" class="r" style="font-size:12px">δ</text>
<text x="62.2" y="531.8" class="b" style="font-size:12px">F</text>
<path d="M71.4 529.6V534" stroke="#777" stroke-width="0.9" fill="none"/>
<path d="M69.1 534H73.7" stroke="#777" stroke-width="0.9" fill="none"/>
<text x="56.38" y="629.8" class="r" style="font-size:12px"><tspan style="fill:#3a3a3a">∫</tspan></text>
<text x="62.5" y="630.8" class="r" style="font-size:12px">δ</text>
<text x="68.65" y="630.8" class="b" style="font-size:12px">S</text>
<text x="76.44" y="632.9" class="b" style="font-size:8px">h</text>
<text x="84.41" y="630.8" class="b" style="font-size:12px">dA</text>
<text x="56.38" y="728.3" class="r" style="font-size:12px"><tspan style="fill:#3a3a3a">∫</tspan></text>
<text x="62.5" y="729.3" class="r" style="font-size:12px">δ</text>
<text x="68.65" y="729.3" class="b" style="font-size:12px">S</text>
<text x="76.97" y="731.4" class="b" style="font-size:8px">v</text>
<text x="83.91" y="729.3" class="b" style="font-size:12px">dA</text>
<text transform="translate(11.3 0) rotate(-90)" x="-106.52" y="-1.2" class="r" style="font-size:12px"><tspan style="fill:#3a3a3a">∫</tspan></text>
<text transform="translate(11.3 0) rotate(-90)" x="-100.7" y="0" class="r" style="font-size:12px">δ</text>
<text transform="translate(11.3 0) rotate(-90)" x="-94.7" y="0" class="b" style="font-size:12px">B</text>
<text transform="translate(11.3 0) rotate(-90)" x="-86.43" y="2.5" class="b" style="font-size:8px">r</text>
<text transform="translate(11.3 0) rotate(-90)" x="-79.8" y="0" class="b" style="font-size:12px">(10</text>
<text transform="translate(11.3 0) rotate(-90)" x="-61.97" y="-5.6" class="b" style="font-size:7.6px">22</text>
<text transform="translate(11.3 0) rotate(-90)" x="-51.26" y="0" class="b" style="font-size:12px">Mx)</text>
<text transform="translate(11.1 0) rotate(-90)" x="-208.22" y="-1.2" class="r" style="font-size:12px"><tspan style="fill:#3a3a3a">∫</tspan></text>
<text transform="translate(11.1 0) rotate(-90)" x="-202.8" y="0" class="r" style="font-size:12px">δ</text>
<text transform="translate(11.1 0) rotate(-90)" x="-197.1" y="0" class="b" style="font-size:12px">B</text>
<path d="M6.5 181.5H14.9M6.5 186.2H14.9" stroke="#777" stroke-width="0.9" fill="none"/>
<text transform="translate(11.1 0) rotate(-90)" x="-172.6" y="0" class="b" style="font-size:12px">(10</text>
<text transform="translate(11.1 0) rotate(-90)" x="-155.97" y="-5.6" class="b" style="font-size:7.6px">22</text>
<text transform="translate(11.1 0) rotate(-90)" x="-144.46" y="0" class="b" style="font-size:12px">Mx)</text>
<text transform="translate(11.3 0) rotate(-90)" x="-305.22" y="-1.2" class="r" style="font-size:12px"><tspan style="fill:#3a3a3a">∫</tspan></text>
<text transform="translate(11.3 0) rotate(-90)" x="-299.7" y="0" class="r" style="font-size:12px">δ</text>
<text transform="translate(11.3 0) rotate(-90)" x="-293.4" y="0" class="b" style="font-size:12px">B</text>
<path d="M9.1 282.5H13.5M13.5 280.2V284.8" stroke="#777" stroke-width="0.9" fill="none"/>
<text transform="translate(11.3 0) rotate(-90)" x="-272.8" y="0" class="b" style="font-size:12px">(10</text>
<text transform="translate(11.3 0) rotate(-90)" x="-255.87" y="-5.6" class="b" style="font-size:7.6px">22</text>
<text transform="translate(11.3 0) rotate(-90)" x="-244.86" y="0" class="b" style="font-size:12px">Mx)</text>
<text transform="translate(14.3 0) rotate(-90)" x="-403.4" y="0" class="r" style="font-size:12px">δ</text>
<text transform="translate(14.3 0) rotate(-90)" x="-397.7" y="0" class="b" style="font-size:12px">F</text>
<text transform="translate(14.3 0) rotate(-90)" x="-390.73" y="2.5" class="b" style="font-size:8px">r</text>
<text transform="translate(14.3 0) rotate(-90)" x="-381" y="0" class="b" style="font-size:12px">(10</text>
<text transform="translate(14.3 0) rotate(-90)" x="-363.67" y="-5.6" class="b" style="font-size:7.6px">22</text>
<text transform="translate(14.3 0) rotate(-90)" x="-352.13" y="0" class="b" style="font-size:12px">dyn)</text>
<text transform="translate(20.8 0) rotate(-90)" x="-504.5" y="0" class="r" style="font-size:12px">δ</text>
<text transform="translate(20.8 0) rotate(-90)" x="-498.7" y="0" class="b" style="font-size:12px">F</text>
<path d="M16.2 484.7H24.6M16.2 489.4H24.6" stroke="#777" stroke-width="0.9" fill="none"/>
<text transform="translate(20.8 0) rotate(-90)" x="-476" y="0" class="b" style="font-size:12px">(10</text>
<text transform="translate(20.8 0) rotate(-90)" x="-458.97" y="-5.6" class="b" style="font-size:7.6px">22</text>
<text transform="translate(20.8 0) rotate(-90)" x="-447.63" y="0" class="b" style="font-size:12px">dyn)</text>
<text transform="translate(14.3 0) rotate(-90)" x="-601.1" y="0" class="r" style="font-size:12px">δ</text>
<text transform="translate(14.3 0) rotate(-90)" x="-595.1" y="0" class="b" style="font-size:12px">F</text>
<path d="M12.1 585.5H16.5M16.5 583.2V587.8" stroke="#777" stroke-width="0.9" fill="none"/>
<text transform="translate(14.3 0) rotate(-90)" x="-576.5" y="0" class="b" style="font-size:12px">(10</text>
<text transform="translate(14.3 0) rotate(-90)" x="-559.27" y="-5.6" class="b" style="font-size:7.6px">22</text>
<text transform="translate(14.3 0) rotate(-90)" x="-547.73" y="0" class="b" style="font-size:12px">dyn)</text>
<text transform="translate(11.5 0) rotate(-90)" x="-699.12" y="-1.2" class="r" style="font-size:12px"><tspan style="fill:#3a3a3a">∫</tspan></text>
<text transform="translate(11.5 0) rotate(-90)" x="-693.9" y="0" class="r" style="font-size:12px">δ</text>
<text transform="translate(11.5 0) rotate(-90)" x="-687.65" y="0" class="b" style="font-size:12px">S</text>
<text transform="translate(11.5 0) rotate(-90)" x="-679.66" y="2.5" class="b" style="font-size:8px">h</text>
<text transform="translate(11.5 0) rotate(-90)" x="-667.9" y="0" class="b" style="font-size:12px">(10</text>
<text transform="translate(11.5 0) rotate(-90)" x="-650.97" y="-5.6" class="b" style="font-size:7.6px">22</text>
<text transform="translate(11.5 0) rotate(-90)" x="-639.76" y="0" class="b" style="font-size:12px">Mx)</text>
<text transform="translate(11.5 0) rotate(-90)" x="-798.02" y="-1.2" class="r" style="font-size:12px"><tspan style="fill:#3a3a3a">∫</tspan></text>
<text transform="translate(11.5 0) rotate(-90)" x="-792.8" y="0" class="r" style="font-size:12px">δ</text>
<text transform="translate(11.5 0) rotate(-90)" x="-786.85" y="0" class="b" style="font-size:12px">S</text>
<text transform="translate(11.5 0) rotate(-90)" x="-777.73" y="2.5" class="b" style="font-size:8px">v</text>
<text transform="translate(11.5 0) rotate(-90)" x="-767" y="0" class="b" style="font-size:12px">(10</text>
<text transform="translate(11.5 0) rotate(-90)" x="-750.07" y="-5.6" class="b" style="font-size:7.6px">22</text>
<text transform="translate(11.5 0) rotate(-90)" x="-738.66" y="0" class="b" style="font-size:12px">Mx)</text>
<text x="72" y="18.6" text-anchor="middle" class="b">17:00</text>
<text x="72" y="821.7" text-anchor="middle" class="b">17:00</text>
<text x="111.85" y="18.6" text-anchor="middle" class="b">18:00</text>
<text x="111.85" y="821.7" text-anchor="middle" class="b">18:00</text>
<text x="151.7" y="18.6" text-anchor="middle" class="b">19:00</text>
<text x="151.7" y="821.7" text-anchor="middle" class="b">19:00</text>
<text x="191.55" y="18.6" text-anchor="middle" class="b">20:00</text>
<text x="191.55" y="821.7" text-anchor="middle" class="b">20:00</text>
<text x="231.4" y="18.6" text-anchor="middle" class="b">21:00</text>
<text x="231.4" y="821.7" text-anchor="middle" class="b">21:00</text>
<text x="271.25" y="18.6" text-anchor="middle" class="b">22:00</text>
<text x="271.25" y="821.7" text-anchor="middle" class="b">22:00</text>
<text x="311.1" y="18.6" text-anchor="middle" class="b">23:00</text>
<text x="311.1" y="821.7" text-anchor="middle" class="b">23:00</text>
<text x="350.95" y="18.6" text-anchor="middle" class="b">00:00</text>
<text x="350.95" y="821.7" text-anchor="middle" class="b">00:00</text>
<text x="390.8" y="18.6" text-anchor="middle" class="b">01:00</text>
<text x="390.8" y="821.7" text-anchor="middle" class="b">01:00</text>
<text x="430.65" y="18.6" text-anchor="middle" class="b">02:00</text>
<text x="430.65" y="821.7" text-anchor="middle" class="b">02:00</text>
<text x="470.5" y="18.6" text-anchor="middle" class="b">03:00</text>
<text x="470.5" y="821.7" text-anchor="middle" class="b">03:00</text>
<text x="510.35" y="18.6" text-anchor="middle" class="b">04:00</text>
<text x="510.35" y="821.7" text-anchor="middle" class="b">04:00</text>
<text x="279.3" y="7.9" text-anchor="middle" class="b">Time (UT)</text>
<text x="279.3" y="834.7" text-anchor="middle" class="b">Time (UT)</text>
</svg>
</body></html>
